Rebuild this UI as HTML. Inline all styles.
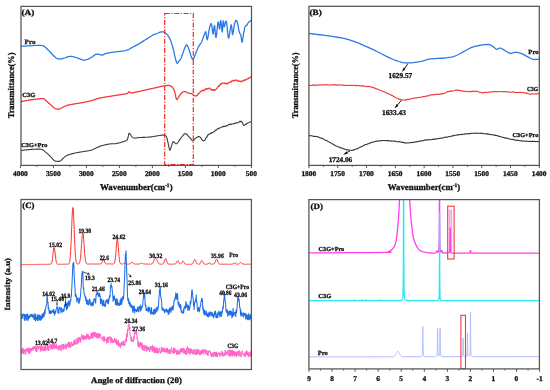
<!DOCTYPE html><html><head><meta charset="utf-8"><style>html,body{margin:0;padding:0;background:#fff}svg{display:block;will-change:transform}text{font-family:"Liberation Serif",serif;font-weight:bold;fill:#111;stroke:#111;stroke-width:0.3px;text-rendering:geometricPrecision}</style></head><body>
<svg width="550" height="390" viewBox="0 0 550 390">
<rect width="550" height="390" fill="#fff"/>
<defs>
<clipPath id="cA"><rect x="21" y="6.5" width="230.5" height="159"/></clipPath>
<clipPath id="cB"><rect x="309" y="6.5" width="230.3" height="159"/></clipPath>
<clipPath id="cC"><rect x="21" y="199.5" width="230.5" height="170"/></clipPath>
<clipPath id="cD"><rect x="309" y="199.5" width="230.5" height="169.5"/></clipPath>
</defs>
<g clip-path="url(#cA)" fill="none" stroke-linejoin="round">
<path d="M21.00,46.30 L22.58,46.21 L24.83,46.07 L27.42,45.93 L30.00,45.80 L32.71,45.65 L35.64,45.47 L38.44,45.36 L40.70,45.40 L42.21,45.58 L43.21,45.86 L44.03,46.31 L45.00,47.00 L46.20,48.01 L47.46,49.29 L48.73,50.67 L50.00,52.00 L51.29,53.32 L52.61,54.69 L53.88,55.97 L55.00,57.00 L55.89,57.75 L56.61,58.29 L57.33,58.66 L58.20,58.90 L59.23,59.00 L60.35,58.96 L61.59,58.78 L63.00,58.50 L64.66,58.00 L66.54,57.30 L68.44,56.65 L70.20,56.30 L71.71,56.33 L73.09,56.61 L74.48,57.03 L76.00,57.50 L77.79,58.11 L79.74,58.87 L81.65,59.57 L83.30,60.00 L84.58,60.09 L85.63,59.95 L86.59,59.66 L87.60,59.30 L88.69,58.85 L89.79,58.29 L90.90,57.65 L92.00,57.00 L93.08,56.23 L94.14,55.35 L95.23,54.57 L96.40,54.10 L97.71,54.11 L99.11,54.46 L100.51,54.85 L101.80,55.00 L102.90,54.78 L103.89,54.38 L104.88,53.90 L106.00,53.50 L107.24,53.20 L108.54,52.93 L109.97,52.67 L111.60,52.40 L113.54,52.12 L115.72,51.85 L117.94,51.57 L120.00,51.30 L121.85,51.07 L123.59,50.88 L125.27,50.62 L126.90,50.20 L128.46,49.56 L129.94,48.77 L131.43,47.89 L133.00,47.00 L134.73,46.08 L136.57,45.10 L138.37,44.12 L140.00,43.20 L141.33,42.40 L142.46,41.66 L143.61,40.90 L145.00,40.00 L146.81,38.84 L148.89,37.51 L150.95,36.22 L152.70,35.20 L154.00,34.56 L155.03,34.16 L155.97,33.85 L157.00,33.50 L158.18,33.00 L159.41,32.44 L160.63,31.99 L161.80,31.80 L162.90,31.91 L163.96,32.23 L164.99,32.76 L166.00,33.50 L166.99,34.44 L167.96,35.57 L168.90,36.94 L169.80,38.60 L170.67,40.66 L171.51,43.06 L172.30,45.58 L173.00,48.00 L173.58,50.34 L174.07,52.70 L174.53,54.96 L175.00,57.00 L175.50,58.94 L176.00,60.80 L176.50,62.31 L177.00,63.20 L177.50,63.26 L177.99,62.68 L178.49,61.80 L179.00,61.00 L179.50,60.42 L179.99,59.86 L180.52,59.12 L181.10,58.00 L181.78,56.29 L182.53,54.14 L183.29,51.92 L184.00,50.00 L184.65,48.33 L185.28,46.76 L185.87,45.51 L186.40,44.80 L186.86,44.79 L187.26,45.32 L187.63,46.15 L188.00,47.00 L188.38,47.85 L188.76,48.83 L189.13,49.89 L189.50,51.00 L189.86,52.21 L190.22,53.53 L190.59,54.83 L191.00,56.00 L191.45,57.19 L191.94,58.41 L192.45,59.29 L193.00,59.50 L193.58,58.79 L194.20,57.40 L194.84,55.68 L195.50,54.00 L196.18,52.31 L196.87,50.48 L197.59,48.68 L198.30,47.10 L199.05,45.82 L199.84,44.73 L200.58,43.75 L201.20,42.80 L201.64,41.94 L201.95,41.19 L202.24,40.40 L202.60,39.40 L203.10,38.02 L203.67,36.39 L204.23,34.81 L204.70,33.60 L205.04,32.69 L205.29,31.96 L205.52,31.65 L205.80,32.00 L206.13,33.73 L206.48,36.48 L206.87,38.92 L207.30,39.70 L207.81,37.96 L208.38,34.59 L208.95,30.85 L209.50,28.00 L210.00,26.08 L210.49,24.52 L210.95,23.65 L211.40,23.80 L211.82,25.80 L212.23,29.23 L212.61,32.52 L213.00,34.10 L213.38,32.77 L213.76,29.62 L214.13,26.54 L214.50,25.40 L214.86,27.66 L215.21,32.00 L215.58,36.12 L216.00,37.70 L216.50,35.17 L217.05,30.07 L217.60,24.81 L218.10,21.80 L218.52,22.35 L218.91,24.95 L219.26,27.78 L219.60,29.00 L219.92,27.46 L220.21,24.37 L220.49,21.41 L220.80,20.30 L221.15,22.33 L221.51,26.31 L221.87,30.21 L222.20,32.00 L222.48,30.40 L222.72,26.75 L222.96,22.92 L223.20,20.80 L223.44,21.38 L223.66,23.50 L223.91,25.79 L224.20,26.90 L224.57,26.13 L225.00,24.31 L225.43,22.39 L225.80,21.30 L226.08,21.12 L226.29,21.41 L226.51,22.32 L226.80,24.00 L227.18,27.28 L227.61,31.81 L228.06,35.98 L228.50,38.20 L228.94,37.56 L229.38,35.08 L229.81,32.01 L230.20,29.60 L230.54,27.81 L230.83,26.11 L231.11,24.97 L231.40,24.90 L231.69,26.76 L231.97,30.04 L232.26,33.17 L232.60,34.60 L232.99,33.51 L233.42,30.86 L233.87,27.76 L234.30,25.30 L234.71,23.59 L235.11,22.10 L235.50,20.99 L235.90,20.40 L236.30,20.40 L236.69,20.90 L237.09,21.82 L237.50,23.10 L237.92,24.98 L238.35,27.41 L238.78,29.86 L239.20,31.80 L239.61,32.92 L240.02,33.55 L240.42,34.13 L240.80,35.10 L241.14,36.97 L241.46,39.37 L241.78,41.41 L242.10,42.20 L242.44,41.21 L242.77,39.02 L243.13,36.37 L243.50,34.00 L243.91,31.91 L244.34,29.76 L244.78,27.83 L245.20,26.40 L245.61,25.71 L246.01,25.55 L246.40,25.54 L246.80,25.30 L247.17,24.70 L247.53,23.96 L247.92,23.19 L248.40,22.50 L249.05,21.89 L249.82,21.31 L250.58,20.80 L251.20,20.40 L251.66,20.13 L252.02,19.97 L252.30,19.87 L252.50,19.80" stroke="#2a7ae4" stroke-width="1.3"/>
<path d="M21.00,101.60 L21.60,101.49 L22.20,101.37 L22.80,101.26 L23.40,101.15 L24.00,101.03 L24.60,100.92 L25.20,100.81 L25.80,100.70 L26.40,100.59 L27.00,100.48 L27.60,100.38 L28.20,100.28 L28.80,100.18 L29.40,100.09 L30.00,100.00 L30.60,99.91 L31.20,99.83 L31.80,99.75 L32.40,99.66 L33.00,99.58 L33.60,99.50 L34.20,99.42 L34.80,99.35 L35.40,99.27 L36.00,99.19 L36.60,99.12 L37.20,99.05 L37.80,98.98 L38.40,98.91 L39.00,98.84 L39.60,98.78 L40.20,98.72 L40.80,98.67 L41.40,98.63 L42.00,98.59 L42.60,98.58 L43.20,98.61 L43.80,98.81 L44.40,99.30 L45.00,99.70 L45.60,100.21 L46.20,100.77 L46.80,101.32 L47.40,101.86 L48.00,102.40 L48.60,102.95 L49.20,103.49 L49.80,104.04 L50.40,104.58 L51.00,105.12 L51.60,105.65 L52.20,106.17 L52.80,106.69 L53.40,107.21 L54.00,107.69 L54.60,108.09 L55.20,108.39 L55.80,108.64 L56.40,108.84 L57.00,109.00 L57.60,109.12 L58.20,109.19 L58.80,109.19 L59.40,109.07 L60.00,108.79 L60.60,108.49 L61.20,108.20 L61.80,107.89 L62.40,107.55 L63.00,107.20 L63.60,106.87 L64.20,106.55 L64.80,106.26 L65.40,106.00 L66.00,105.77 L66.60,105.58 L67.20,105.40 L67.80,105.24 L68.40,105.10 L69.00,104.96 L69.60,104.84 L70.20,104.71 L70.80,104.60 L71.40,104.48 L72.00,104.37 L72.60,104.26 L73.20,104.15 L73.80,104.04 L74.40,103.93 L75.00,103.82 L75.60,103.72 L76.20,103.62 L76.80,103.52 L77.40,103.43 L78.00,103.33 L78.60,103.24 L79.20,103.14 L79.80,103.05 L80.40,102.95 L81.00,102.86 L81.60,102.76 L82.20,102.66 L82.80,102.55 L83.40,102.44 L84.00,102.32 L84.60,102.20 L85.20,102.08 L85.80,101.96 L86.40,101.83 L87.00,101.70 L87.60,101.57 L88.20,101.43 L88.80,101.30 L89.40,101.15 L90.00,101.01 L90.60,100.86 L91.20,100.71 L91.80,100.55 L92.40,100.38 L93.00,100.21 L93.60,100.00 L94.20,99.77 L94.80,99.54 L95.40,99.32 L96.00,99.11 L96.60,98.91 L97.20,98.73 L97.80,98.57 L98.40,98.41 L99.00,98.27 L99.60,98.14 L100.20,98.01 L100.80,97.88 L101.40,97.77 L102.00,97.66 L102.60,97.55 L103.20,97.44 L103.80,97.34 L104.40,97.24 L105.00,97.13 L105.60,97.03 L106.20,96.93 L106.80,96.83 L107.40,96.74 L108.00,96.64 L108.60,96.54 L109.20,96.45 L109.80,96.35 L110.40,96.26 L111.00,96.16 L111.60,96.07 L112.20,95.97 L112.80,95.88 L113.40,95.79 L114.00,95.69 L114.60,95.60 L115.20,95.51 L115.80,95.41 L116.40,95.32 L117.00,95.23 L117.60,95.13 L118.20,95.04 L118.80,94.95 L119.40,94.85 L120.00,94.76 L120.60,94.67 L121.20,94.57 L121.80,94.48 L122.40,94.38 L123.00,94.28 L123.60,94.18 L124.20,94.08 L124.80,93.98 L125.40,93.88 L126.00,93.77 L126.60,93.66 L127.20,93.53 L127.80,93.00 L128.40,92.33 L129.00,91.83 L129.60,91.99 L130.20,92.48 L130.80,92.76 L131.40,92.83 L132.00,92.83 L132.60,92.76 L133.20,92.65 L133.80,92.54 L134.40,92.42 L135.00,92.30 L135.60,92.18 L136.20,92.05 L136.80,91.92 L137.40,91.79 L138.00,91.66 L138.60,91.53 L139.20,91.40 L139.80,91.27 L140.40,91.13 L141.00,91.00 L141.60,90.87 L142.20,90.73 L142.80,90.60 L143.40,90.46 L144.00,90.33 L144.60,90.19 L145.20,90.06 L145.80,89.93 L146.40,89.79 L147.00,89.66 L147.60,89.53 L148.20,89.39 L148.80,89.26 L149.40,89.13 L150.00,89.00 L150.60,88.87 L151.20,88.73 L151.80,88.60 L152.40,88.47 L153.00,88.33 L153.60,88.19 L154.20,88.06 L154.80,87.92 L155.40,87.78 L156.00,87.64 L156.60,87.51 L157.20,87.37 L157.80,87.24 L158.40,87.10 L159.00,86.97 L159.60,86.84 L160.20,86.70 L160.80,86.58 L161.40,86.45 L162.00,86.32 L162.60,86.20 L163.20,86.09 L163.80,85.98 L164.40,85.87 L165.00,85.78 L165.60,85.69 L166.20,85.61 L166.80,85.54 L167.40,85.49 L168.00,85.46 L168.60,85.45 L169.20,85.51 L169.80,85.65 L170.40,85.89 L171.00,86.20 L171.60,86.58 L172.20,87.09 L172.80,87.76 L173.40,88.67 L174.00,89.82 L174.60,91.38 L175.20,93.91 L175.80,96.93 L176.40,99.07 L177.00,99.57 L177.60,98.81 L178.20,97.70 L178.80,96.84 L179.40,95.99 L180.00,95.09 L180.60,94.22 L181.20,93.44 L181.80,92.80 L182.40,92.34 L183.00,92.01 L183.60,91.78 L184.20,91.65 L184.80,91.60 L185.40,91.63 L186.00,91.83 L186.60,92.20 L187.20,92.60 L187.80,92.92 L188.40,93.11 L189.00,93.23 L189.60,93.33 L190.20,93.42 L190.80,93.54 L191.40,93.70 L192.00,93.95 L192.60,94.31 L193.20,94.74 L193.80,95.18 L194.40,95.58 L195.00,95.89 L195.60,96.03 L196.20,95.59 L196.80,95.84 L197.40,95.25 L198.00,94.41 L198.60,93.39 L199.20,93.27 L199.80,92.59 L200.40,91.70 L201.00,91.31 L201.60,90.77 L202.20,90.36 L202.80,90.66 L203.40,90.78 L204.00,90.03 L204.60,90.43 L205.20,89.25 L205.80,88.81 L206.40,88.34 L207.00,89.20 L207.60,88.76 L208.20,88.81 L208.80,88.49 L209.40,87.95 L210.00,88.57 L210.60,89.22 L211.20,89.24 L211.80,90.44 L212.40,89.91 L213.00,89.71 L213.60,90.43 L214.20,89.60 L214.80,90.35 L215.40,89.60 L216.00,89.35 L216.60,88.60 L217.20,88.10 L217.80,87.05 L218.40,86.15 L219.00,86.40 L219.60,85.05 L220.20,84.94 L220.80,83.64 L221.40,83.92 L222.00,83.47 L222.60,83.13 L223.20,83.14 L223.80,83.06 L224.40,83.40 L225.00,82.92 L225.60,83.48 L226.20,83.96 L226.80,83.23 L227.40,83.86 L228.00,83.52 L228.60,82.63 L229.20,82.24 L229.80,82.04 L230.40,81.71 L231.00,82.14 L231.60,81.22 L232.20,80.59 L232.80,80.43 L233.40,80.89 L234.00,80.99 L234.60,80.27 L235.20,80.13 L235.80,80.14 L236.40,80.48 L237.00,80.24 L237.60,81.00 L238.20,81.10 L238.80,81.29 L239.40,80.91 L240.00,80.99 L240.60,81.25 L241.20,81.91 L241.80,81.24 L242.40,81.40 L243.00,80.87 L243.60,80.33 L244.20,79.95 L244.80,80.45 L245.40,80.10 L246.00,79.33 L246.60,79.35 L247.20,79.01 L247.80,78.92 L248.40,78.66 L249.00,77.73 L249.60,78.05 L250.20,77.70 L250.80,77.01 L251.40,77.10 L252.00,76.54" stroke="#f23a3a" stroke-width="1.3"/>
<path d="M21.00,150.50 L21.60,150.43 L22.20,150.35 L22.80,150.28 L23.40,150.20 L24.00,150.12 L24.60,150.05 L25.20,149.98 L25.80,149.90 L26.40,149.84 L27.00,149.77 L27.60,149.71 L28.20,149.65 L28.80,149.59 L29.40,149.55 L30.00,149.50 L30.60,149.46 L31.20,149.42 L31.80,149.39 L32.40,149.35 L33.00,149.32 L33.60,149.29 L34.20,149.25 L34.80,149.23 L35.40,149.20 L36.00,149.18 L36.60,149.16 L37.20,149.14 L37.80,149.13 L38.40,149.13 L39.00,149.13 L39.60,149.14 L40.20,149.17 L40.80,149.21 L41.40,149.28 L42.00,149.39 L42.60,149.63 L43.20,150.14 L43.80,150.64 L44.40,151.11 L45.00,151.58 L45.60,152.07 L46.20,152.58 L46.80,153.10 L47.40,153.62 L48.00,154.16 L48.60,154.70 L49.20,155.25 L49.80,155.81 L50.40,156.40 L51.00,157.04 L51.60,157.72 L52.20,158.43 L52.80,159.12 L53.40,159.76 L54.00,160.30 L54.60,160.69 L55.20,160.97 L55.80,161.14 L56.40,161.23 L57.00,161.30 L57.60,161.37 L58.20,161.42 L58.80,161.42 L59.40,161.35 L60.00,161.18 L60.60,160.86 L61.20,160.34 L61.80,159.69 L62.40,159.05 L63.00,158.50 L63.60,157.96 L64.20,157.39 L64.80,156.85 L65.40,156.38 L66.00,155.97 L66.60,155.63 L67.20,155.35 L67.80,155.10 L68.40,154.88 L69.00,154.67 L69.60,154.48 L70.20,154.29 L70.80,154.12 L71.40,153.95 L72.00,153.80 L72.60,153.64 L73.20,153.49 L73.80,153.35 L74.40,153.21 L75.00,153.07 L75.60,152.94 L76.20,152.81 L76.80,152.68 L77.40,152.56 L78.00,152.45 L78.60,152.34 L79.20,152.24 L79.80,152.13 L80.40,152.04 L81.00,151.94 L81.60,151.85 L82.20,151.76 L82.80,151.67 L83.40,151.58 L84.00,151.49 L84.60,151.40 L85.20,151.31 L85.80,151.21 L86.40,151.12 L87.00,151.03 L87.60,150.92 L88.20,150.82 L88.80,150.70 L89.40,150.58 L90.00,150.45 L90.60,150.30 L91.20,150.13 L91.80,149.94 L92.40,149.72 L93.00,149.45 L93.60,149.16 L94.20,148.86 L94.80,148.59 L95.40,148.32 L96.00,148.05 L96.60,147.76 L97.20,147.46 L97.80,147.17 L98.40,146.88 L99.00,146.62 L99.60,146.38 L100.20,146.17 L100.80,145.97 L101.40,145.79 L102.00,145.63 L102.60,145.46 L103.20,145.31 L103.80,145.16 L104.40,145.02 L105.00,144.88 L105.60,144.75 L106.20,144.62 L106.80,144.50 L107.40,144.37 L108.00,144.26 L108.60,144.15 L109.20,144.05 L109.80,143.96 L110.40,143.89 L111.00,143.84 L111.60,143.81 L112.20,143.79 L112.80,143.79 L113.40,143.78 L114.00,143.77 L114.60,143.75 L115.20,143.71 L115.80,143.63 L116.40,143.52 L117.00,143.40 L117.60,143.27 L118.20,143.12 L118.80,142.96 L119.40,142.80 L120.00,142.62 L120.60,142.44 L121.20,142.25 L121.80,142.06 L122.40,141.87 L123.00,141.68 L123.60,141.50 L124.20,141.32 L124.80,141.14 L125.40,140.94 L126.00,140.68 L126.60,140.34 L127.20,139.74 L127.80,138.36 L128.40,135.64 L129.00,133.25 L129.60,133.40 L130.20,134.20 L130.80,135.05 L131.40,135.97 L132.00,136.77 L132.60,137.36 L133.20,137.75 L133.80,137.97 L134.40,138.06 L135.00,138.08 L135.60,138.05 L136.20,137.98 L136.80,137.89 L137.40,137.80 L138.00,137.71 L138.60,137.63 L139.20,137.57 L139.80,137.52 L140.40,137.48 L141.00,137.45 L141.60,137.43 L142.20,137.41 L142.80,137.40 L143.40,137.38 L144.00,137.36 L144.60,137.34 L145.20,137.32 L145.80,137.30 L146.40,137.27 L147.00,137.24 L147.60,137.20 L148.20,137.16 L148.80,137.11 L149.40,137.05 L150.00,137.00 L150.60,136.92 L151.20,136.85 L151.80,136.77 L152.40,136.67 L153.00,136.58 L153.60,136.48 L154.20,136.38 L154.80,136.28 L155.40,136.18 L156.00,136.08 L156.60,135.97 L157.20,135.87 L157.80,135.77 L158.40,135.67 L159.00,135.57 L159.60,135.48 L160.20,135.39 L160.80,135.31 L161.40,135.24 L162.00,135.17 L162.60,135.13 L163.20,135.11 L163.80,135.12 L164.40,135.16 L165.00,135.25 L165.60,135.52 L166.20,136.43 L166.80,137.77 L167.40,139.77 L168.00,142.65 L168.60,145.43 L169.20,148.36 L169.80,150.29 L170.40,149.68 L171.00,147.65 L171.60,145.70 L172.20,143.55 L172.80,142.01 L173.40,141.61 L174.00,142.00 L174.60,142.70 L175.20,143.35 L175.80,143.77 L176.40,143.81 L177.00,143.45 L177.60,142.81 L178.20,142.02 L178.80,141.15 L179.40,140.25 L180.00,139.35 L180.60,138.51 L181.20,137.75 L181.80,136.97 L182.40,136.16 L183.00,135.35 L183.60,134.63 L184.20,134.06 L184.80,133.72 L185.40,133.63 L186.00,133.81 L186.60,134.20 L187.20,134.74 L187.80,135.38 L188.40,136.08 L189.00,136.77 L189.60,137.41 L190.20,138.09 L190.80,138.87 L191.40,139.67 L192.00,140.40 L192.60,140.90 L193.20,140.96 L193.80,140.32 L194.40,139.39 L195.00,138.80 L195.60,138.36 L196.20,137.91 L196.80,137.47 L197.40,137.09 L198.00,136.80 L198.60,136.61 L199.20,136.59 L199.80,136.82 L200.40,137.39 L201.00,138.20 L201.60,139.10 L202.20,139.96 L202.80,140.61 L203.40,140.94 L204.00,140.85 L204.60,140.36 L205.20,139.98 L205.80,138.26 L206.40,137.10 L207.00,136.97 L207.60,135.39 L208.20,134.67 L208.80,134.65 L209.40,133.95 L210.00,134.07 L210.60,133.14 L211.20,133.48 L211.80,132.60 L212.40,132.53 L213.00,132.49 L213.60,131.90 L214.20,131.72 L214.80,131.11 L215.40,130.09 L216.00,130.42 L216.60,129.73 L217.20,129.06 L217.80,128.55 L218.40,128.76 L219.00,128.16 L219.60,128.15 L220.20,127.70 L220.80,127.62 L221.40,127.06 L222.00,126.98 L222.60,126.74 L223.20,126.28 L223.80,126.77 L224.40,126.06 L225.00,126.35 L225.60,126.37 L226.20,125.94 L226.80,125.31 L227.40,125.73 L228.00,125.38 L228.60,124.72 L229.20,124.37 L229.80,124.59 L230.40,123.95 L231.00,124.58 L231.60,124.05 L232.20,123.92 L232.80,123.69 L233.40,123.79 L234.00,123.90 L234.60,123.22 L235.20,123.16 L235.80,123.22 L236.40,122.82 L237.00,122.95 L237.60,122.74 L238.20,122.43 L238.80,122.36 L239.40,121.89 L240.00,121.15 L240.60,121.76 L241.20,121.29 L241.80,121.93 L242.40,122.78 L243.00,124.28 L243.60,125.39 L244.20,125.30 L244.80,124.99 L245.40,124.29 L246.00,124.53 L246.60,123.44 L247.20,123.44 L247.80,122.99 L248.40,122.71 L249.00,122.49 L249.60,122.10 L250.20,121.73 L250.80,121.96 L251.40,122.02 L252.00,121.74" stroke="#3c3c3c" stroke-width="1.1"/>
</g>
<rect x="164.7" y="13.5" width="28.6" height="151" fill="none" stroke="#f22" stroke-width="1.2" stroke-dasharray="5,1.6,1.2,1.6"/>
<rect x="21" y="6.4" width="230.5" height="159" fill="none" stroke="#555" stroke-width="1.25"/>
<path d="M20.40,165.5 v2.6 M36.90,165.5 v1.4 M53.40,165.5 v2.6 M69.90,165.5 v1.4 M86.40,165.5 v2.6 M102.90,165.5 v1.4 M119.40,165.5 v2.6 M135.90,165.5 v1.4 M152.40,165.5 v2.6 M168.90,165.5 v1.4 M185.40,165.5 v2.6 M201.90,165.5 v1.4 M218.40,165.5 v2.6 M234.90,165.5 v1.4 M251.40,165.5 v2.6" stroke="#555" stroke-width="1"/>
<text transform="translate(13.00,175.90) scale(1.002,1)" font-size="7.38">4000</text>
<text transform="translate(45.91,175.90) scale(1.002,1)" font-size="7.38">3500</text>
<text transform="translate(78.91,175.90) scale(1.002,1)" font-size="7.38">3000</text>
<text transform="translate(111.91,175.90) scale(1.002,1)" font-size="7.38">2500</text>
<text transform="translate(144.91,175.90) scale(1.002,1)" font-size="7.38">2000</text>
<text transform="translate(177.81,175.90) scale(1.002,1)" font-size="7.38">1500</text>
<text transform="translate(210.81,175.90) scale(1.002,1)" font-size="7.38">1000</text>
<text transform="translate(245.76,175.90) scale(1.002,1)" font-size="7.38">500</text>
<text transform="translate(21.54,14.70) scale(1.154,1)" font-size="8.00">(A)</text>
<text transform="translate(24.62,43.70) scale(1.076,1)" font-size="6.62">Pro</text>
<text transform="translate(22.27,97.15) scale(1.046,1)" font-size="6.31">C3G</text>
<text transform="translate(21.28,147.20) scale(1.056,1)" font-size="6.00">C3G+Pro</text>
<text x="136.3" y="189.7" font-size="8.8" text-anchor="middle">Wavenumber(cm<tspan font-size="5.5" dy="-3">-1</tspan><tspan dy="3">)</tspan></text>
<text transform="translate(13.90,118.31) rotate(-90) scale(0.942,1)" font-size="8.90">Transmittance(%)</text>
<g clip-path="url(#cB)" fill="none" stroke-linejoin="round">
<path d="M308.90,33.50 L310.80,33.72 L313.40,34.01 L316.49,34.36 L319.88,34.76 L323.38,35.21 L326.80,35.70 L330.21,36.19 L333.77,36.69 L337.45,37.24 L341.18,37.87 L344.92,38.65 L348.60,39.60 L352.30,40.78 L356.06,42.17 L359.83,43.70 L363.53,45.29 L367.11,46.88 L370.50,48.40 L373.74,49.91 L376.87,51.47 L379.89,53.02 L382.75,54.52 L385.43,55.90 L387.90,57.10 L390.12,58.12 L392.09,58.99 L393.89,59.75 L395.56,60.41 L397.18,60.98 L398.80,61.50 L400.36,61.95 L401.81,62.31 L403.20,62.59 L404.59,62.80 L406.04,62.93 L407.60,63.00 L409.35,62.97 L411.24,62.84 L413.19,62.64 L415.11,62.39 L416.91,62.14 L418.50,61.90 L419.87,61.67 L421.08,61.42 L422.18,61.16 L423.17,60.90 L424.11,60.64 L425.00,60.40 L425.66,60.17 L426.02,59.96 L426.32,59.74 L426.78,59.53 L427.63,59.32 L429.10,59.10 L431.42,58.88 L434.46,58.67 L437.89,58.46 L441.39,58.23 L444.63,57.98 L447.30,57.70 L449.29,57.44 L450.84,57.21 L452.14,56.97 L453.37,56.64 L454.73,56.17 L456.40,55.50 L458.46,54.53 L460.77,53.27 L463.20,51.88 L465.63,50.48 L467.94,49.21 L470.00,48.20 L471.78,47.46 L473.37,46.90 L474.83,46.46 L476.23,46.10 L477.64,45.80 L479.10,45.50 L480.67,45.20 L482.30,44.93 L483.94,44.71 L485.51,44.56 L486.95,44.48 L488.20,44.50 L489.22,44.64 L490.06,44.88 L490.76,45.21 L491.40,45.59 L492.03,45.99 L492.70,46.40 L493.41,46.87 L494.10,47.44 L494.79,48.04 L495.46,48.59 L496.13,49.04 L496.80,49.30 L497.40,49.28 L497.92,49.00 L498.44,48.62 L499.02,48.26 L499.75,48.08 L500.70,48.20 L501.96,48.75 L503.47,49.63 L505.14,50.69 L506.83,51.74 L508.42,52.64 L509.80,53.20 L510.93,53.36 L511.91,53.24 L512.79,52.96 L513.64,52.63 L514.53,52.37 L515.50,52.30 L516.53,52.38 L517.56,52.51 L518.62,52.72 L519.74,53.01 L520.96,53.40 L522.30,53.90 L523.84,54.62 L525.57,55.56 L527.39,56.60 L529.21,57.62 L530.95,58.49 L532.50,59.10 L533.93,59.40 L535.33,59.49 L536.64,59.43 L537.80,59.29 L538.78,59.16 L539.50,59.10" stroke="#2a7ae4" stroke-width="1.3"/>
<path d="M309.00,85.31 L309.70,85.49 L310.40,85.33 L311.10,85.46 L311.80,85.43 L312.50,85.00 L313.20,84.92 L313.90,85.46 L314.60,85.02 L315.30,84.96 L316.00,85.46 L316.70,85.06 L317.40,85.28 L318.10,84.99 L318.80,85.08 L319.50,84.71 L320.20,85.02 L320.90,85.16 L321.60,84.90 L322.30,85.03 L323.00,84.97 L323.70,84.53 L324.40,85.00 L325.10,84.88 L325.80,84.67 L326.50,84.47 L327.20,85.06 L327.90,84.79 L328.60,84.96 L329.30,85.08 L330.00,84.97 L330.70,85.12 L331.40,84.76 L332.10,85.05 L332.80,84.81 L333.50,85.16 L334.20,85.14 L334.90,84.60 L335.60,84.64 L336.30,84.71 L337.00,85.25 L337.70,84.89 L338.40,85.04 L339.10,84.83 L339.80,84.99 L340.50,84.92 L341.20,84.91 L341.90,85.09 L342.60,85.11 L343.30,85.35 L344.00,85.22 L344.70,85.41 L345.40,85.38 L346.10,85.49 L346.80,85.29 L347.50,84.96 L348.20,85.47 L348.90,85.57 L349.60,85.55 L350.30,85.34 L351.00,85.47 L351.70,85.14 L352.40,85.61 L353.10,85.46 L353.80,85.29 L354.50,85.16 L355.20,85.75 L355.90,85.88 L356.60,85.29 L357.30,85.82 L358.00,85.58 L358.70,85.44 L359.40,85.59 L360.10,85.96 L360.80,86.08 L361.50,85.55 L362.20,86.00 L362.90,85.66 L363.60,86.19 L364.30,85.98 L365.00,86.44 L365.70,86.58 L366.40,86.34 L367.10,86.78 L367.80,86.40 L368.50,86.34 L369.20,86.83 L369.90,86.56 L370.60,86.81 L371.30,87.11 L372.00,87.41 L372.70,87.28 L373.40,87.38 L374.10,88.17 L374.80,88.00 L375.50,88.70 L376.20,88.90 L376.90,88.80 L377.60,89.13 L378.30,89.45 L379.00,89.82 L379.70,90.08 L380.40,90.34 L381.10,90.66 L381.80,91.17 L382.50,91.16 L383.20,91.40 L383.90,91.91 L384.60,91.88 L385.30,92.24 L386.00,93.04 L386.70,93.04 L387.40,93.39 L388.10,93.34 L388.80,93.96 L389.50,94.41 L390.20,94.36 L390.90,95.11 L391.60,95.46 L392.30,95.39 L393.00,96.14 L393.70,96.38 L394.40,96.90 L395.10,97.05 L395.80,97.69 L396.50,98.09 L397.20,97.96 L397.90,98.32 L398.60,99.04 L399.30,99.50 L400.00,99.25 L400.70,99.61 L401.40,99.89 L402.10,99.84 L402.80,99.96 L403.50,99.97 L404.20,100.01 L404.90,100.12 L405.60,99.83 L406.30,99.76 L407.00,99.89 L407.70,99.21 L408.40,99.41 L409.10,99.36 L409.80,98.90 L410.50,98.68 L411.20,98.95 L411.90,98.42 L412.60,98.26 L413.30,98.31 L414.00,98.38 L414.70,97.84 L415.40,97.88 L416.10,97.77 L416.80,98.01 L417.50,97.62 L418.20,97.80 L418.90,97.20 L419.60,97.20 L420.30,97.31 L421.00,97.36 L421.70,96.94 L422.40,96.66 L423.10,96.47 L423.80,96.63 L424.50,96.27 L425.20,96.58 L425.90,96.46 L426.60,95.85 L427.30,95.75 L428.00,95.95 L428.70,95.65 L429.40,95.60 L430.10,95.12 L430.80,94.84 L431.50,94.84 L432.20,95.09 L432.90,94.64 L433.60,94.61 L434.30,94.58 L435.00,94.50 L435.70,94.42 L436.40,94.71 L437.10,94.10 L437.80,93.92 L438.50,94.50 L439.20,94.38 L439.90,94.37 L440.60,93.89 L441.30,94.15 L442.00,94.02 L442.70,93.41 L443.40,93.61 L444.10,93.49 L444.80,93.16 L445.50,92.81 L446.20,92.38 L446.90,92.14 L447.60,91.79 L448.30,91.44 L449.00,91.59 L449.70,91.21 L450.40,91.41 L451.10,90.72 L451.80,91.18 L452.50,90.89 L453.20,90.93 L453.90,90.79 L454.60,90.69 L455.30,90.38 L456.00,89.93 L456.70,90.39 L457.40,89.97 L458.10,90.09 L458.80,90.40 L459.50,90.39 L460.20,90.44 L460.90,90.95 L461.60,90.87 L462.30,90.83 L463.00,90.90 L463.70,91.45 L464.40,91.28 L465.10,91.56 L465.80,91.31 L466.50,91.23 L467.20,91.47 L467.90,91.67 L468.60,91.22 L469.30,91.64 L470.00,91.72 L470.70,91.62 L471.40,91.62 L472.10,91.03 L472.80,91.45 L473.50,91.60 L474.20,91.02 L474.90,91.18 L475.60,91.18 L476.30,91.39 L477.00,91.37 L477.70,91.52 L478.40,92.02 L479.10,91.96 L479.80,92.24 L480.50,92.39 L481.20,92.43 L481.90,92.39 L482.60,93.01 L483.30,92.89 L484.00,92.32 L484.70,92.57 L485.40,92.38 L486.10,92.33 L486.80,92.30 L487.50,92.45 L488.20,92.35 L488.90,92.14 L489.60,91.96 L490.30,91.99 L491.00,91.79 L491.70,92.03 L492.40,92.09 L493.10,91.79 L493.80,91.53 L494.50,91.54 L495.20,91.63 L495.90,91.75 L496.60,91.83 L497.30,91.52 L498.00,91.79 L498.70,91.64 L499.40,91.50 L500.10,91.45 L500.80,91.55 L501.50,91.71 L502.20,91.53 L502.90,91.76 L503.60,91.63 L504.30,91.52 L505.00,91.76 L505.70,91.90 L506.40,91.50 L507.10,91.78 L507.80,91.81 L508.50,92.16 L509.20,92.23 L509.90,91.87 L510.60,92.27 L511.30,92.23 L512.00,91.90 L512.70,92.08 L513.40,91.87 L514.10,92.39 L514.80,92.33 L515.50,92.52 L516.20,92.50 L516.90,92.45 L517.60,92.54 L518.30,92.46 L519.00,92.18 L519.70,92.57 L520.40,92.21 L521.10,92.36 L521.80,92.85 L522.50,92.40 L523.20,92.50 L523.90,92.58 L524.60,93.22 L525.30,92.82 L526.00,92.82 L526.70,93.51 L527.40,93.12 L528.10,93.74 L528.80,93.74 L529.50,93.95 L530.20,94.12 L530.90,93.92 L531.60,94.11 L532.30,93.60 L533.00,94.12 L533.70,93.93 L534.40,94.05 L535.10,93.60 L535.80,94.01 L536.50,94.10 L537.20,93.44 L537.90,93.58 L538.60,93.70 L539.30,93.84" stroke="#f23a3a" stroke-width="1.1"/>
<path d="M309.00,135.61 L309.70,135.63 L310.40,135.82 L311.10,135.79 L311.80,135.82 L312.50,136.03 L313.20,136.32 L313.90,136.35 L314.60,136.43 L315.30,136.32 L316.00,136.56 L316.70,136.59 L317.40,136.70 L318.10,136.84 L318.80,137.10 L319.50,137.61 L320.20,137.82 L320.90,138.08 L321.60,138.36 L322.30,138.42 L323.00,138.79 L323.70,139.24 L324.40,139.62 L325.10,140.01 L325.80,140.36 L326.50,140.39 L327.20,140.95 L327.90,141.34 L328.60,141.65 L329.30,141.91 L330.00,142.43 L330.70,142.68 L331.40,143.42 L332.10,143.80 L332.80,144.08 L333.50,144.38 L334.20,145.01 L334.90,145.26 L335.60,145.74 L336.30,146.09 L337.00,146.28 L337.70,146.57 L338.40,146.93 L339.10,147.16 L339.80,147.32 L340.50,147.65 L341.20,148.11 L341.90,148.06 L342.60,148.30 L343.30,148.77 L344.00,148.85 L344.70,149.17 L345.40,149.34 L346.10,149.49 L346.80,149.92 L347.50,149.76 L348.20,149.99 L348.90,150.03 L349.60,150.30 L350.30,150.24 L351.00,150.31 L351.70,150.45 L352.40,150.19 L353.10,150.14 L353.80,150.09 L354.50,149.56 L355.20,149.32 L355.90,149.13 L356.60,149.06 L357.30,148.69 L358.00,148.21 L358.70,147.90 L359.40,147.49 L360.10,147.24 L360.80,146.71 L361.50,146.62 L362.20,146.34 L362.90,146.02 L363.60,145.59 L364.30,145.35 L365.00,144.66 L365.70,144.48 L366.40,144.47 L367.10,144.14 L367.80,143.73 L368.50,143.70 L369.20,143.32 L369.90,143.17 L370.60,142.73 L371.30,142.47 L372.00,142.36 L372.70,142.03 L373.40,141.95 L374.10,142.00 L374.80,141.58 L375.50,141.29 L376.20,141.17 L376.90,141.09 L377.60,141.22 L378.30,140.95 L379.00,140.84 L379.70,140.69 L380.40,140.99 L381.10,140.71 L381.80,140.59 L382.50,140.50 L383.20,140.49 L383.90,140.52 L384.60,140.72 L385.30,140.51 L386.00,140.48 L386.70,140.67 L387.40,140.59 L388.10,140.91 L388.80,140.59 L389.50,140.79 L390.20,140.94 L390.90,140.85 L391.60,141.15 L392.30,141.01 L393.00,140.99 L393.70,141.14 L394.40,141.08 L395.10,141.32 L395.80,141.33 L396.50,141.68 L397.20,141.74 L397.90,141.69 L398.60,141.59 L399.30,141.77 L400.00,141.85 L400.70,141.95 L401.40,142.08 L402.10,142.46 L402.80,142.30 L403.50,142.38 L404.20,142.84 L404.90,142.78 L405.60,143.03 L406.30,142.84 L407.00,143.05 L407.70,142.96 L408.40,142.98 L409.10,142.91 L409.80,142.75 L410.50,142.51 L411.20,142.47 L411.90,142.64 L412.60,142.55 L413.30,142.45 L414.00,142.10 L414.70,142.11 L415.40,142.05 L416.10,141.87 L416.80,141.81 L417.50,141.58 L418.20,141.51 L418.90,141.40 L419.60,141.11 L420.30,141.24 L421.00,141.10 L421.70,140.58 L422.40,140.78 L423.10,140.62 L423.80,140.36 L424.50,140.00 L425.20,140.24 L425.90,139.84 L426.60,140.11 L427.30,139.94 L428.00,139.64 L428.70,139.64 L429.40,139.78 L430.10,139.70 L430.80,139.71 L431.50,139.72 L432.20,139.36 L432.90,139.19 L433.60,139.47 L434.30,139.00 L435.00,139.25 L435.70,138.83 L436.40,139.00 L437.10,138.88 L437.80,138.80 L438.50,138.56 L439.20,138.57 L439.90,138.18 L440.60,138.25 L441.30,137.99 L442.00,138.10 L442.70,137.93 L443.40,137.68 L444.10,137.58 L444.80,137.26 L445.50,137.14 L446.20,137.24 L446.90,137.07 L447.60,137.09 L448.30,136.85 L449.00,136.52 L449.70,136.47 L450.40,136.48 L451.10,136.22 L451.80,135.86 L452.50,136.03 L453.20,135.87 L453.90,135.42 L454.60,135.47 L455.30,135.27 L456.00,135.31 L456.70,135.00 L457.40,134.86 L458.10,134.87 L458.80,134.96 L459.50,134.52 L460.20,134.44 L460.90,134.56 L461.60,134.58 L462.30,134.34 L463.00,134.22 L463.70,134.31 L464.40,134.20 L465.10,133.83 L465.80,134.09 L466.50,133.74 L467.20,133.71 L467.90,133.85 L468.60,133.62 L469.30,133.71 L470.00,133.39 L470.70,133.63 L471.40,133.29 L472.10,133.23 L472.80,133.33 L473.50,133.23 L474.20,133.28 L474.90,133.40 L475.60,133.31 L476.30,133.01 L477.00,133.13 L477.70,133.23 L478.40,133.22 L479.10,133.33 L479.80,133.27 L480.50,133.14 L481.20,133.25 L481.90,133.54 L482.60,133.40 L483.30,133.62 L484.00,133.78 L484.70,133.70 L485.40,133.80 L486.10,133.86 L486.80,133.83 L487.50,134.16 L488.20,134.08 L488.90,134.36 L489.60,134.22 L490.30,134.56 L491.00,134.63 L491.70,134.68 L492.40,134.73 L493.10,134.73 L493.80,135.12 L494.50,135.09 L495.20,135.37 L495.90,135.32 L496.60,135.47 L497.30,135.68 L498.00,136.12 L498.70,136.07 L499.40,136.55 L500.10,136.54 L500.80,136.82 L501.50,136.92 L502.20,137.22 L502.90,137.20 L503.60,137.50 L504.30,137.90 L505.00,137.76 L505.70,138.10 L506.40,138.13 L507.10,138.26 L507.80,138.30 L508.50,138.44 L509.20,138.95 L509.90,139.04 L510.60,139.17 L511.30,139.31 L512.00,139.50 L512.70,139.32 L513.40,139.62 L514.10,139.71 L514.80,139.86 L515.50,140.13 L516.20,140.18 L516.90,140.37 L517.60,140.14 L518.30,140.46 L519.00,140.56 L519.70,140.69 L520.40,140.73 L521.10,140.89 L521.80,140.76 L522.50,141.09 L523.20,140.94 L523.90,141.08 L524.60,141.25 L525.30,141.22 L526.00,141.10 L526.70,141.11 L527.40,141.18 L528.10,141.33 L528.80,141.51 L529.50,141.50 L530.20,141.32 L530.90,141.35 L531.60,141.54 L532.30,141.34 L533.00,141.41 L533.70,141.27 L534.40,141.35 L535.10,141.51 L535.80,141.59 L536.50,141.57 L537.20,141.48 L537.90,141.73 L538.60,141.62 L539.30,141.46" stroke="#333" stroke-width="1.1"/>
</g>
<rect x="308.9" y="6.3" width="230.4" height="159.1" fill="none" stroke="#555" stroke-width="1.25"/>
<path d="M309.00,165.5 v2.6 M323.39,165.5 v1.4 M337.79,165.5 v2.6 M352.18,165.5 v1.4 M366.57,165.5 v2.6 M380.97,165.5 v1.4 M395.36,165.5 v2.6 M409.76,165.5 v1.4 M424.15,165.5 v2.6 M438.54,165.5 v1.4 M452.94,165.5 v2.6 M467.33,165.5 v1.4 M481.73,165.5 v2.6 M496.12,165.5 v1.4 M510.51,165.5 v2.6 M524.91,165.5 v1.4 M539.30,165.5 v2.6" stroke="#555" stroke-width="1"/>
<text transform="translate(301.42,175.90) scale(1.002,1)" font-size="7.38">1800</text>
<text transform="translate(330.20,175.90) scale(1.002,1)" font-size="7.38">1750</text>
<text transform="translate(358.99,175.90) scale(1.002,1)" font-size="7.38">1700</text>
<text transform="translate(387.78,175.90) scale(1.002,1)" font-size="7.38">1650</text>
<text transform="translate(416.56,175.90) scale(1.002,1)" font-size="7.38">1600</text>
<text transform="translate(445.35,175.90) scale(1.002,1)" font-size="7.38">1550</text>
<text transform="translate(474.14,175.90) scale(1.002,1)" font-size="7.38">1500</text>
<text transform="translate(502.93,175.90) scale(1.002,1)" font-size="7.38">1450</text>
<text transform="translate(531.72,175.90) scale(1.002,1)" font-size="7.38">1400</text>
<text transform="translate(309.54,15.10) scale(1.140,1)" font-size="8.00">(B)</text>
<text transform="translate(528.33,53.70) scale(1.028,1)" font-size="6.46">Pro</text>
<text transform="translate(526.92,90.60) scale(0.920,1)" font-size="6.15">C3G</text>
<text transform="translate(512.59,137.30) scale(1.043,1)" font-size="6.00">C3G+Pro</text>
<path d="M407.60,64.20 L404.62,68.34" stroke="#111" stroke-width="1.0"/><path d="M402.00,72.00 L403.57,67.59 L405.68,69.10Z" fill="#111"/>
<path d="M401.40,100.30 L397.49,104.95" stroke="#111" stroke-width="1.0"/><path d="M394.60,108.40 L396.50,104.12 L398.49,105.79Z" fill="#111"/>
<path d="M350.00,150.90 L347.13,152.50" stroke="#111" stroke-width="1.0"/><path d="M343.20,154.70 L346.49,151.37 L347.76,153.64Z" fill="#111"/>
<text transform="translate(388.55,78.10) scale(0.964,1)" font-size="7.54">1629.57</text>
<text transform="translate(381.95,114.50) scale(1.002,1)" font-size="7.38">1633.43</text>
<text transform="translate(328.65,161.70) scale(1.005,1)" font-size="7.23">1724.06</text>
<text x="424" y="189.7" font-size="8.8" text-anchor="middle">Wavenumber(cm<tspan font-size="5.5" dy="-3">-1</tspan><tspan dy="3">)</tspan></text>
<text transform="translate(297.80,118.31) rotate(-90) scale(0.975,1)" font-size="8.60">Transmittance(%)</text>
<g clip-path="url(#cC)" fill="none" stroke-linejoin="round">
<path d="M21.00,349.66 L21.25,352.54 L21.50,349.14 L21.75,348.86 L22.00,352.84 L22.25,351.45 L22.50,349.83 L22.75,353.51 L23.00,347.90 L23.25,348.79 L23.50,353.29 L23.75,353.39 L24.00,354.21 L24.25,349.49 L24.50,351.04 L24.75,351.55 L25.00,350.18 L25.25,349.83 L25.50,353.25 L25.75,354.37 L26.00,351.42 L26.25,348.55 L26.50,350.63 L26.75,348.98 L27.00,349.31 L27.25,351.68 L27.50,348.44 L27.75,349.13 L28.00,348.83 L28.25,347.98 L28.50,353.95 L28.75,352.33 L29.00,347.71 L29.25,352.87 L29.50,351.70 L29.75,350.14 L30.00,353.33 L30.25,348.64 L30.50,349.77 L30.75,348.11 L31.00,351.25 L31.25,348.53 L31.50,350.99 L31.75,349.44 L32.00,349.27 L32.25,348.01 L32.50,347.60 L32.75,347.25 L33.00,350.50 L33.25,346.93 L33.50,348.93 L33.75,346.56 L34.00,347.31 L34.25,348.25 L34.50,346.88 L34.75,348.79 L35.00,346.27 L35.25,349.55 L35.50,349.63 L35.75,350.61 L36.00,346.21 L36.25,352.13 L36.50,347.64 L36.75,351.61 L37.00,349.78 L37.25,347.39 L37.50,347.07 L37.75,345.90 L38.00,346.19 L38.25,348.10 L38.50,346.83 L38.75,349.27 L39.00,347.44 L39.25,346.38 L39.50,346.19 L39.75,346.89 L40.00,347.77 L40.25,347.83 L40.50,351.32 L40.75,345.64 L41.00,346.21 L41.25,347.52 L41.50,349.02 L41.75,345.33 L42.00,351.19 L42.25,348.53 L42.50,347.61 L42.75,346.70 L43.00,349.76 L43.25,348.75 L43.50,348.18 L43.75,349.38 L44.00,351.24 L44.25,346.04 L44.50,350.60 L44.75,347.07 L45.00,347.03 L45.25,343.85 L45.50,345.63 L45.75,350.74 L46.00,350.30 L46.25,348.97 L46.50,349.55 L46.75,349.81 L47.00,346.66 L47.25,347.70 L47.50,349.77 L47.75,343.87 L48.00,346.55 L48.25,345.91 L48.50,349.96 L48.75,350.84 L49.00,347.31 L49.25,347.08 L49.50,347.52 L49.75,346.36 L50.00,345.03 L50.25,343.89 L50.50,344.80 L50.75,347.52 L51.00,349.47 L51.25,346.93 L51.50,344.78 L51.75,347.67 L52.00,348.00 L52.25,344.12 L52.50,343.12 L52.75,349.31 L53.00,346.25 L53.25,344.53 L53.50,342.87 L53.75,347.92 L54.00,342.82 L54.25,345.62 L54.50,347.77 L54.75,348.98 L55.00,348.36 L55.25,347.50 L55.50,347.47 L55.75,344.78 L56.00,348.07 L56.25,343.62 L56.50,347.50 L56.75,348.73 L57.00,346.18 L57.25,347.10 L57.50,346.63 L57.75,346.95 L58.00,346.35 L58.25,350.35 L58.50,345.84 L58.75,347.15 L59.00,349.74 L59.25,347.53 L59.50,348.37 L59.75,345.11 L60.00,345.59 L60.25,346.63 L60.50,346.00 L60.75,346.56 L61.00,351.15 L61.25,345.25 L61.50,344.88 L61.75,345.80 L62.00,344.39 L62.25,344.54 L62.50,347.97 L62.75,348.52 L63.00,348.70 L63.25,349.65 L63.50,344.12 L63.75,347.18 L64.00,348.87 L64.25,348.26 L64.50,346.24 L64.75,345.20 L65.00,346.97 L65.25,345.02 L65.50,343.70 L65.75,344.05 L66.00,349.44 L66.25,348.29 L66.50,344.78 L66.75,345.62 L67.00,347.32 L67.25,345.30 L67.50,343.94 L67.75,342.96 L68.00,342.77 L68.25,347.51 L68.50,345.03 L68.75,341.80 L69.00,343.46 L69.25,347.13 L69.50,346.71 L69.75,342.23 L70.00,345.23 L70.25,347.71 L70.50,345.27 L70.75,344.43 L71.00,346.54 L71.25,341.86 L71.50,343.08 L71.75,342.61 L72.00,343.28 L72.25,344.48 L72.50,345.65 L72.75,343.86 L73.00,345.01 L73.25,346.03 L73.50,343.63 L73.75,341.38 L74.00,343.00 L74.25,339.78 L74.50,344.39 L74.75,345.00 L75.00,344.34 L75.25,342.01 L75.50,344.28 L75.75,342.51 L76.00,338.78 L76.25,341.40 L76.50,342.36 L76.75,343.98 L77.00,344.39 L77.25,344.30 L77.50,340.59 L77.75,340.86 L78.00,337.62 L78.25,341.41 L78.50,337.68 L78.75,343.12 L79.00,338.12 L79.25,337.85 L79.50,339.74 L79.75,337.23 L80.00,339.87 L80.25,338.00 L80.50,342.42 L80.75,339.14 L81.00,337.38 L81.25,336.38 L81.50,335.95 L81.75,336.64 L82.00,334.46 L82.25,340.14 L82.50,339.77 L82.75,336.06 L83.00,339.33 L83.25,335.88 L83.50,338.41 L83.75,339.61 L84.00,335.23 L84.25,338.11 L84.50,338.76 L84.75,336.58 L85.00,339.51 L85.25,337.34 L85.50,338.82 L85.75,335.97 L86.00,337.26 L86.25,335.89 L86.50,339.42 L86.75,333.86 L87.00,337.72 L87.25,335.33 L87.50,338.32 L87.75,334.47 L88.00,334.67 L88.25,334.11 L88.50,337.49 L88.75,339.31 L89.00,336.99 L89.25,336.22 L89.50,336.14 L89.75,339.40 L90.00,337.82 L90.25,338.78 L90.50,338.50 L90.75,336.65 L91.00,333.59 L91.25,332.97 L91.50,337.08 L91.75,337.88 L92.00,333.64 L92.25,336.18 L92.50,332.52 L92.75,338.78 L93.00,336.75 L93.25,332.54 L93.50,333.44 L93.75,336.17 L94.00,332.00 L94.25,332.04 L94.50,334.10 L94.75,336.89 L95.00,334.74 L95.25,332.71 L95.50,332.13 L95.75,336.89 L96.00,336.37 L96.25,337.70 L96.50,333.23 L96.75,338.15 L97.00,334.32 L97.25,337.62 L97.50,334.85 L97.75,333.43 L98.00,337.38 L98.25,334.01 L98.50,338.45 L98.75,334.66 L99.00,333.26 L99.25,337.41 L99.50,333.99 L99.75,334.05 L100.00,335.77 L100.25,334.28 L100.50,336.53 L100.75,337.46 L101.00,338.73 L101.25,337.41 L101.50,337.09 L101.75,337.33 L102.00,336.68 L102.25,337.79 L102.50,340.69 L102.75,340.76 L103.00,339.52 L103.25,339.36 L103.50,339.07 L103.75,336.42 L104.00,341.97 L104.25,341.48 L104.50,336.77 L104.75,337.03 L105.00,338.97 L105.25,339.91 L105.50,340.31 L105.75,339.58 L106.00,339.09 L106.25,338.57 L106.50,343.24 L106.75,338.66 L107.00,342.59 L107.25,337.96 L107.50,337.31 L107.75,338.29 L108.00,343.01 L108.25,338.68 L108.50,336.86 L108.75,340.54 L109.00,339.01 L109.25,336.73 L109.50,337.78 L109.75,337.03 L110.00,336.65 L110.25,337.69 L110.50,341.67 L110.75,343.07 L111.00,340.19 L111.25,337.06 L111.50,340.70 L111.75,341.91 L112.00,338.60 L112.25,340.54 L112.50,342.87 L112.75,340.88 L113.00,342.70 L113.25,339.95 L113.50,342.28 L113.75,341.22 L114.00,340.81 L114.25,339.48 L114.50,338.48 L114.75,341.31 L115.00,339.10 L115.25,343.28 L115.50,343.10 L115.75,340.97 L116.00,340.85 L116.25,338.70 L116.50,341.94 L116.75,345.18 L117.00,341.06 L117.25,344.35 L117.50,342.90 L117.75,340.99 L118.00,340.98 L118.25,339.92 L118.50,346.36 L118.75,346.38 L119.00,343.94 L119.25,342.76 L119.50,344.92 L119.75,345.89 L120.00,344.05 L120.25,347.80 L120.50,347.08 L120.75,345.43 L121.00,342.69 L121.25,344.33 L121.50,342.29 L121.75,343.83 L122.00,346.05 L122.25,343.09 L122.50,343.34 L122.75,341.51 L123.00,342.38 L123.25,344.95 L123.50,343.69 L123.75,340.82 L124.00,344.73 L124.25,345.94 L124.50,343.88 L124.75,345.60 L125.00,344.04 L125.25,340.76 L125.50,339.30 L125.75,339.99 L126.00,339.75 L126.25,337.34 L126.50,341.91 L126.75,334.87 L127.00,333.24 L127.25,337.13 L127.50,328.99 L127.75,330.17 L128.00,330.68 L128.25,325.17 L128.50,325.69 L128.75,324.93 L129.00,323.75 L129.25,330.00 L129.50,329.81 L129.75,326.84 L130.00,335.33 L130.25,335.64 L130.50,335.59 L130.75,335.98 L131.00,340.00 L131.25,341.42 L131.50,337.02 L131.75,340.29 L132.00,339.02 L132.25,342.04 L132.50,341.32 L132.75,341.90 L133.00,340.88 L133.25,341.59 L133.50,339.61 L133.75,336.60 L134.00,339.89 L134.25,338.34 L134.50,332.80 L134.75,333.11 L135.00,334.35 L135.25,329.83 L135.50,332.76 L135.75,330.97 L136.00,332.10 L136.25,329.86 L136.50,334.40 L136.75,332.57 L137.00,337.83 L137.25,339.23 L137.50,337.85 L137.75,340.16 L138.00,346.26 L138.25,342.20 L138.50,341.41 L138.75,342.19 L139.00,347.52 L139.25,347.64 L139.50,343.05 L139.75,346.78 L140.00,345.71 L140.25,345.88 L140.50,345.70 L140.75,341.82 L141.00,344.66 L141.25,343.88 L141.50,343.41 L141.75,346.94 L142.00,349.37 L142.25,343.48 L142.50,344.58 L142.75,350.11 L143.00,350.53 L143.25,346.48 L143.50,345.38 L143.75,346.80 L144.00,346.08 L144.25,350.86 L144.50,347.56 L144.75,348.92 L145.00,345.05 L145.25,346.10 L145.50,347.74 L145.75,345.53 L146.00,348.00 L146.25,351.41 L146.50,347.05 L146.75,347.83 L147.00,351.14 L147.25,346.41 L147.50,348.88 L147.75,348.42 L148.00,348.34 L148.25,349.93 L148.50,347.09 L148.75,347.17 L149.00,349.52 L149.25,349.35 L149.50,352.00 L149.75,352.06 L150.00,347.95 L150.25,346.40 L150.50,349.04 L150.75,349.75 L151.00,347.11 L151.25,346.31 L151.50,347.66 L151.75,346.82 L152.00,350.74 L152.25,351.56 L152.50,345.38 L152.75,349.29 L153.00,349.28 L153.25,347.59 L153.50,347.85 L153.75,351.73 L154.00,346.26 L154.25,352.88 L154.50,348.94 L154.75,347.56 L155.00,347.48 L155.25,348.70 L155.50,352.97 L155.75,353.18 L156.00,348.13 L156.25,352.19 L156.50,347.64 L156.75,348.73 L157.00,352.81 L157.25,347.96 L157.50,348.62 L157.75,353.41 L158.00,352.06 L158.25,350.14 L158.50,352.37 L158.75,352.98 L159.00,350.16 L159.25,347.90 L159.50,349.19 L159.75,350.52 L160.00,351.73 L160.25,351.55 L160.50,353.35 L160.75,352.92 L161.00,351.33 L161.25,347.29 L161.50,349.06 L161.75,352.26 L162.00,351.85 L162.25,348.64 L162.50,351.12 L162.75,349.69 L163.00,347.44 L163.25,349.93 L163.50,351.71 L163.75,349.64 L164.00,351.95 L164.25,349.76 L164.50,351.34 L164.75,348.20 L165.00,349.49 L165.25,352.51 L165.50,352.25 L165.75,350.83 L166.00,348.99 L166.25,351.22 L166.50,348.35 L166.75,352.34 L167.00,349.77 L167.25,351.97 L167.50,347.95 L167.75,351.76 L168.00,353.66 L168.25,351.21 L168.50,349.86 L168.75,352.19 L169.00,350.18 L169.25,353.66 L169.50,349.55 L169.75,350.35 L170.00,349.27 L170.25,353.42 L170.50,353.95 L170.75,351.96 L171.00,349.50 L171.25,348.84 L171.50,348.43 L171.75,347.54 L172.00,352.14 L172.25,350.85 L172.50,352.16 L172.75,352.52 L173.00,351.47 L173.25,353.70 L173.50,347.91 L173.75,352.00 L174.00,352.79 L174.25,352.53 L174.50,353.19 L174.75,347.94 L175.00,351.13 L175.25,352.09 L175.50,350.17 L175.75,351.45 L176.00,351.59 L176.25,353.08 L176.50,354.40 L176.75,351.20 L177.00,349.73 L177.25,354.49 L177.50,350.66 L177.75,352.64 L178.00,352.45 L178.25,354.36 L178.50,352.21 L178.75,351.61 L179.00,350.31 L179.25,350.98 L179.50,354.37 L179.75,353.42 L180.00,353.54 L180.25,348.82 L180.50,349.80 L180.75,351.95 L181.00,348.45 L181.25,351.24 L181.50,352.45 L181.75,348.95 L182.00,352.50 L182.25,348.87 L182.50,349.61 L182.75,349.88 L183.00,347.94 L183.25,351.58 L183.50,348.42 L183.75,351.46 L184.00,353.90 L184.25,349.41 L184.50,348.77 L184.75,353.40 L185.00,351.57 L185.25,350.55 L185.50,350.68 L185.75,354.13 L186.00,353.54 L186.25,354.57 L186.50,348.16 L186.75,350.47 L187.00,354.48 L187.25,348.94 L187.50,346.66 L187.75,349.22 L188.00,348.07 L188.25,350.74 L188.50,353.12 L188.75,349.38 L189.00,348.44 L189.25,348.42 L189.50,351.29 L189.75,354.46 L190.00,352.55 L190.25,348.59 L190.50,350.44 L190.75,353.25 L191.00,350.82 L191.25,348.83 L191.50,353.09 L191.75,351.19 L192.00,352.53 L192.25,352.71 L192.50,353.93 L192.75,351.22 L193.00,349.37 L193.25,351.72 L193.50,354.59 L193.75,353.84 L194.00,352.22 L194.25,350.94 L194.50,349.60 L194.75,352.20 L195.00,354.16 L195.25,351.95 L195.50,354.45 L195.75,354.79 L196.00,349.13 L196.25,351.73 L196.50,354.36 L196.75,355.02 L197.00,349.41 L197.25,354.14 L197.50,353.62 L197.75,351.10 L198.00,353.23 L198.25,353.77 L198.50,349.95 L198.75,349.20 L199.00,353.22 L199.25,352.51 L199.50,353.22 L199.75,355.14 L200.00,350.66 L200.25,350.95 L200.50,354.33 L200.75,355.05 L201.00,351.07 L201.25,354.02 L201.50,349.75 L201.75,353.75 L202.00,349.88 L202.25,353.10 L202.50,350.40 L202.75,349.78 L203.00,350.76 L203.25,352.51 L203.50,351.20 L203.75,354.27 L204.00,349.21 L204.25,350.39 L204.50,351.79 L204.75,351.81 L205.00,350.29 L205.25,349.73 L205.50,352.69 L205.75,354.09 L206.00,352.09 L206.25,349.94 L206.50,351.26 L206.75,351.80 L207.00,355.19 L207.25,351.89 L207.50,350.94 L207.75,352.38 L208.00,355.87 L208.25,351.43 L208.50,350.83 L208.75,352.61 L209.00,352.05 L209.25,351.06 L209.50,351.05 L209.75,350.59 L210.00,352.33 L210.25,352.59 L210.50,351.83 L210.75,355.48 L211.00,355.78 L211.25,353.66 L211.50,356.68 L211.75,353.23 L212.00,354.17 L212.25,352.76 L212.50,355.63 L212.75,356.80 L213.00,356.94 L213.25,356.63 L213.50,356.80 L213.75,352.06 L214.00,351.84 L214.25,353.09 L214.50,352.70 L214.75,355.81 L215.00,354.31 L215.25,351.88 L215.50,353.56 L215.75,356.97 L216.00,352.54 L216.25,355.45 L216.50,351.78 L216.75,356.52 L217.00,355.54 L217.25,353.00 L217.50,356.99 L217.75,354.77 L218.00,354.14 L218.25,353.51 L218.50,353.98 L218.75,352.33 L219.00,352.44 L219.25,352.37 L219.50,354.58 L219.75,356.49 L220.00,354.28 L220.25,354.88 L220.50,353.13 L220.75,354.16 L221.00,355.79 L221.25,355.03 L221.50,352.64 L221.75,351.10 L222.00,354.05 L222.25,354.42 L222.50,351.82 L222.75,356.30 L223.00,355.74 L223.25,356.18 L223.50,354.79 L223.75,355.77 L224.00,352.71 L224.25,353.51 L224.50,353.39 L224.75,355.89 L225.00,353.01 L225.25,349.97 L225.50,352.25 L225.75,355.16 L226.00,353.57 L226.25,351.84 L226.50,353.64 L226.75,351.77 L227.00,352.75 L227.25,354.07 L227.50,354.31 L227.75,352.62 L228.00,349.81 L228.25,353.90 L228.50,355.69 L228.75,354.25 L229.00,354.51 L229.25,356.18 L229.50,349.83 L229.75,351.62 L230.00,350.67 L230.25,349.90 L230.50,356.40 L230.75,354.45 L231.00,352.14 L231.25,350.84 L231.50,355.49 L231.75,350.02 L232.00,350.87 L232.25,349.91 L232.50,356.26 L232.75,351.38 L233.00,350.69 L233.25,354.96 L233.50,351.45 L233.75,352.57 L234.00,355.52 L234.25,355.54 L234.50,351.42 L234.75,356.41 L235.00,356.03 L235.25,351.73 L235.50,354.52 L235.75,352.28 L236.00,354.20 L236.25,356.71 L236.50,356.08 L236.75,352.10 L237.00,352.75 L237.25,351.43 L237.50,353.55 L237.75,355.60 L238.00,355.27 L238.25,350.78 L238.50,352.88 L238.75,354.06 L239.00,356.37 L239.25,353.51 L239.50,351.92 L239.75,350.64 L240.00,354.34 L240.25,352.38 L240.50,353.49 L240.75,353.36 L241.00,357.15 L241.25,355.17 L241.50,355.19 L241.75,352.96 L242.00,352.59 L242.25,350.72 L242.50,350.88 L242.75,353.55 L243.00,353.08 L243.25,355.51 L243.50,354.29 L243.75,354.35 L244.00,354.04 L244.25,354.34 L244.50,353.83 L244.75,356.52 L245.00,355.83 L245.25,352.22 L245.50,356.52 L245.75,353.68 L246.00,352.01 L246.25,350.86 L246.50,354.73 L246.75,350.81 L247.00,351.46 L247.25,352.58 L247.50,352.00 L247.75,355.33 L248.00,351.91 L248.25,355.28 L248.50,357.21 L248.75,354.44 L249.00,353.21 L249.25,353.34 L249.50,353.33 L249.75,354.60 L250.00,356.41 L250.25,351.94 L250.50,356.43 L250.75,352.76 L251.00,350.86 L251.25,355.98 L251.50,355.52 L251.75,350.88 L252.00,352.37" stroke="#ff62c6" stroke-width="1"/>
<path d="M21.00,316.82 L21.30,318.22 L21.60,313.52 L21.90,315.43 L22.20,318.46 L22.50,317.53 L22.80,314.58 L23.10,314.72 L23.40,314.00 L23.70,314.13 L24.00,316.04 L24.30,319.52 L24.60,320.25 L24.90,314.34 L25.20,320.52 L25.50,316.77 L25.80,315.99 L26.10,314.94 L26.40,314.15 L26.70,319.67 L27.00,316.82 L27.30,317.26 L27.60,314.06 L27.90,320.82 L28.20,318.64 L28.50,316.49 L28.80,318.73 L29.10,315.58 L29.40,317.57 L29.70,315.03 L30.00,317.00 L30.30,315.50 L30.60,316.69 L30.90,314.64 L31.20,315.18 L31.50,314.16 L31.80,316.37 L32.10,314.26 L32.40,315.39 L32.70,317.31 L33.00,317.33 L33.30,315.07 L33.60,316.48 L33.90,319.24 L34.20,313.89 L34.50,319.38 L34.80,315.44 L35.10,318.27 L35.40,320.99 L35.70,313.96 L36.00,319.44 L36.30,318.36 L36.60,317.54 L36.90,318.24 L37.20,320.52 L37.50,314.85 L37.80,319.95 L38.10,320.43 L38.40,318.61 L38.70,315.11 L39.00,315.37 L39.30,318.48 L39.60,319.82 L39.90,315.12 L40.20,320.36 L40.50,317.71 L40.80,320.04 L41.10,315.98 L41.40,319.31 L41.70,316.79 L42.00,315.02 L42.30,314.00 L42.60,318.25 L42.90,317.85 L43.20,314.89 L43.50,313.41 L43.80,312.88 L44.10,316.71 L44.40,313.52 L44.70,310.13 L45.00,313.84 L45.30,309.98 L45.60,309.60 L45.90,306.68 L46.20,305.38 L46.50,305.32 L46.80,303.39 L47.10,294.99 L47.40,298.20 L47.70,302.00 L48.00,301.99 L48.30,308.81 L48.60,307.06 L48.90,309.27 L49.20,313.32 L49.50,312.02 L49.80,310.54 L50.10,313.44 L50.40,310.86 L50.70,313.72 L51.00,311.80 L51.30,310.94 L51.60,313.06 L51.90,312.43 L52.20,311.12 L52.50,311.05 L52.80,311.45 L53.10,309.92 L53.40,312.93 L53.70,309.38 L54.00,311.12 L54.30,313.36 L54.60,315.28 L54.90,311.22 L55.20,313.39 L55.50,312.93 L55.80,311.10 L56.10,309.30 L56.40,309.13 L56.70,308.27 L57.00,306.12 L57.30,306.96 L57.60,307.12 L57.90,312.91 L58.20,309.69 L58.50,309.50 L58.80,313.55 L59.10,308.80 L59.40,307.38 L59.70,307.23 L60.00,308.24 L60.30,309.12 L60.60,308.22 L60.90,313.00 L61.20,307.42 L61.50,310.41 L61.80,310.21 L62.10,312.02 L62.40,310.66 L62.70,310.46 L63.00,308.68 L63.30,310.58 L63.60,311.71 L63.90,310.55 L64.20,310.23 L64.50,305.11 L64.80,305.31 L65.10,306.62 L65.40,301.51 L65.70,302.52 L66.00,304.47 L66.30,307.94 L66.60,309.94 L66.90,308.14 L67.20,302.65 L67.50,308.75 L67.80,303.16 L68.10,304.28 L68.40,303.03 L68.70,300.88 L69.00,306.59 L69.30,304.70 L69.60,301.23 L69.90,304.66 L70.20,301.43 L70.50,299.84 L70.80,300.97 L71.10,295.44 L71.40,296.18 L71.70,289.18 L72.00,284.67 L72.30,276.45 L72.60,270.38 L72.90,263.53 L73.20,266.86 L73.50,262.19 L73.80,264.33 L74.10,273.41 L74.40,278.92 L74.70,284.96 L75.00,287.88 L75.30,296.37 L75.60,295.18 L75.90,294.27 L76.20,295.42 L76.50,297.18 L76.80,301.82 L77.10,297.98 L77.40,299.00 L77.70,299.32 L78.00,297.80 L78.30,303.14 L78.60,302.26 L78.90,300.52 L79.20,303.23 L79.50,298.25 L79.80,300.81 L80.10,298.59 L80.40,296.61 L80.70,293.20 L81.00,288.79 L81.30,286.38 L81.60,279.23 L81.90,274.42 L82.20,272.74 L82.50,271.21 L82.80,271.88 L83.10,282.18 L83.40,288.76 L83.70,287.60 L84.00,293.11 L84.30,294.35 L84.60,293.98 L84.90,297.03 L85.20,296.26 L85.50,298.54 L85.80,300.50 L86.10,297.55 L86.40,303.01 L86.70,303.83 L87.00,300.05 L87.30,304.22 L87.60,301.89 L87.90,300.01 L88.20,304.86 L88.50,302.94 L88.80,304.68 L89.10,303.42 L89.40,299.05 L89.70,301.57 L90.00,299.62 L90.30,302.87 L90.60,305.23 L90.90,303.15 L91.20,305.31 L91.50,303.31 L91.80,303.00 L92.10,306.30 L92.40,302.06 L92.70,304.43 L93.00,304.56 L93.30,305.11 L93.60,301.33 L93.90,299.14 L94.20,298.67 L94.50,299.16 L94.80,298.86 L95.10,301.41 L95.40,302.99 L95.70,303.06 L96.00,297.07 L96.30,293.60 L96.60,294.09 L96.90,293.82 L97.20,290.78 L97.50,294.00 L97.80,293.03 L98.10,296.19 L98.40,296.33 L98.70,293.36 L99.00,293.37 L99.30,296.52 L99.60,293.16 L99.90,295.69 L100.20,296.00 L100.50,303.70 L100.80,302.84 L101.10,299.06 L101.40,298.95 L101.70,301.81 L102.00,303.81 L102.30,304.71 L102.60,305.81 L102.90,299.74 L103.20,305.81 L103.50,302.99 L103.80,300.88 L104.10,303.04 L104.40,306.30 L104.70,304.40 L105.00,305.09 L105.30,306.51 L105.60,304.19 L105.90,300.39 L106.20,302.25 L106.50,300.30 L106.80,299.91 L107.10,300.78 L107.40,303.09 L107.70,301.03 L108.00,299.07 L108.30,303.90 L108.60,301.65 L108.90,300.40 L109.20,298.10 L109.50,295.74 L109.80,297.69 L110.10,295.79 L110.40,286.26 L110.70,286.32 L111.00,283.44 L111.30,286.06 L111.60,287.40 L111.90,286.21 L112.20,289.82 L112.50,292.72 L112.80,295.64 L113.10,301.47 L113.40,296.55 L113.70,297.38 L114.00,299.94 L114.30,295.68 L114.60,297.40 L114.90,298.58 L115.20,299.28 L115.50,304.61 L115.80,302.02 L116.10,299.58 L116.40,304.15 L116.70,298.72 L117.00,305.53 L117.30,299.24 L117.60,305.09 L117.90,303.87 L118.20,303.40 L118.50,302.91 L118.80,304.87 L119.10,305.55 L119.40,305.20 L119.70,305.46 L120.00,300.16 L120.30,304.56 L120.60,303.74 L120.90,298.19 L121.20,298.03 L121.50,304.41 L121.80,303.55 L122.10,299.75 L122.40,301.16 L122.70,296.58 L123.00,296.37 L123.30,299.18 L123.60,298.48 L123.90,291.78 L124.20,285.33 L124.50,280.56 L124.80,272.12 L125.10,262.22 L125.40,254.08 L125.70,254.31 L126.00,250.85 L126.30,258.87 L126.60,267.24 L126.90,277.08 L127.20,282.72 L127.50,295.32 L127.80,300.04 L128.10,301.01 L128.40,298.19 L128.70,303.51 L129.00,300.52 L129.30,304.10 L129.60,302.48 L129.90,306.13 L130.20,302.85 L130.50,305.38 L130.80,304.36 L131.10,307.44 L131.40,305.61 L131.70,307.84 L132.00,305.41 L132.30,305.61 L132.60,311.00 L132.90,312.50 L133.20,308.84 L133.50,306.45 L133.80,306.31 L134.10,310.94 L134.40,306.55 L134.70,313.09 L135.00,310.34 L135.30,309.63 L135.60,310.31 L135.90,309.05 L136.20,310.33 L136.50,311.64 L136.80,311.22 L137.10,309.46 L137.40,310.73 L137.70,307.20 L138.00,307.05 L138.30,312.09 L138.60,307.27 L138.90,308.53 L139.20,306.74 L139.50,307.82 L139.80,308.77 L140.10,311.69 L140.40,305.02 L140.70,305.42 L141.00,310.16 L141.30,309.41 L141.60,307.27 L141.90,306.99 L142.20,306.27 L142.50,307.28 L142.80,304.31 L143.10,298.81 L143.40,298.28 L143.70,292.67 L144.00,293.84 L144.30,297.58 L144.60,293.05 L144.90,298.66 L145.20,305.23 L145.50,306.45 L145.80,304.96 L146.10,310.68 L146.40,307.90 L146.70,310.27 L147.00,310.44 L147.30,309.09 L147.60,309.56 L147.90,311.09 L148.20,306.73 L148.50,312.02 L148.80,310.35 L149.10,308.27 L149.40,307.35 L149.70,308.28 L150.00,310.33 L150.30,312.71 L150.60,313.94 L150.90,310.77 L151.20,309.43 L151.50,307.43 L151.80,313.95 L152.10,312.06 L152.40,312.88 L152.70,313.53 L153.00,312.51 L153.30,314.45 L153.60,309.69 L153.90,311.09 L154.20,314.12 L154.50,309.00 L154.80,310.39 L155.10,310.82 L155.40,313.46 L155.70,313.02 L156.00,308.12 L156.30,307.97 L156.60,309.54 L156.90,311.53 L157.20,306.99 L157.50,307.07 L157.80,309.94 L158.10,307.39 L158.40,307.17 L158.70,302.16 L159.00,296.11 L159.30,295.02 L159.60,289.14 L159.90,291.49 L160.20,286.60 L160.50,293.79 L160.80,297.70 L161.10,297.30 L161.40,300.59 L161.70,302.48 L162.00,309.13 L162.30,309.65 L162.60,307.72 L162.90,310.80 L163.20,310.22 L163.50,309.26 L163.80,308.88 L164.10,310.73 L164.40,311.95 L164.70,312.71 L165.00,310.06 L165.30,310.13 L165.60,309.62 L165.90,309.62 L166.20,311.90 L166.50,311.33 L166.80,308.87 L167.10,310.85 L167.40,311.34 L167.70,312.31 L168.00,310.25 L168.30,314.53 L168.60,309.78 L168.90,311.52 L169.20,313.76 L169.50,309.16 L169.80,307.65 L170.10,310.89 L170.40,309.78 L170.70,308.36 L171.00,312.37 L171.30,308.13 L171.60,310.29 L171.90,306.41 L172.20,310.08 L172.50,306.12 L172.80,307.53 L173.10,310.02 L173.40,306.06 L173.70,305.48 L174.00,300.57 L174.30,300.49 L174.60,300.80 L174.90,297.44 L175.20,297.04 L175.50,296.65 L175.80,292.71 L176.10,299.60 L176.40,293.82 L176.70,295.28 L177.00,296.85 L177.30,298.82 L177.60,293.52 L177.90,301.22 L178.20,304.36 L178.50,305.33 L178.80,302.19 L179.10,302.94 L179.40,307.52 L179.70,306.22 L180.00,306.36 L180.30,304.63 L180.60,309.40 L180.90,305.12 L181.20,311.94 L181.50,310.77 L181.80,312.81 L182.10,311.82 L182.40,312.05 L182.70,313.08 L183.00,313.04 L183.30,309.36 L183.60,313.27 L183.90,311.15 L184.20,306.89 L184.50,306.90 L184.80,307.38 L185.10,305.78 L185.40,308.77 L185.70,302.91 L186.00,301.45 L186.30,306.64 L186.60,307.02 L186.90,304.02 L187.20,305.89 L187.50,307.78 L187.80,310.23 L188.10,307.37 L188.40,305.31 L188.70,306.67 L189.00,309.66 L189.30,310.48 L189.60,306.74 L189.90,307.84 L190.20,301.24 L190.50,304.29 L190.80,303.10 L191.10,300.72 L191.40,296.35 L191.70,291.99 L192.00,289.44 L192.30,291.60 L192.60,293.55 L192.90,298.10 L193.20,297.95 L193.50,305.75 L193.80,301.89 L194.10,309.60 L194.40,305.14 L194.70,302.20 L195.00,302.04 L195.30,301.90 L195.60,299.19 L195.90,299.41 L196.20,294.88 L196.50,301.84 L196.80,301.39 L197.10,303.89 L197.40,309.59 L197.70,311.52 L198.00,308.85 L198.30,310.17 L198.60,307.37 L198.90,310.85 L199.20,310.64 L199.50,311.85 L199.80,308.05 L200.10,307.57 L200.40,305.09 L200.70,305.81 L201.00,301.02 L201.30,301.39 L201.60,298.36 L201.90,301.47 L202.20,298.89 L202.50,301.61 L202.80,309.19 L203.10,306.44 L203.40,312.92 L203.70,309.79 L204.00,312.74 L204.30,314.98 L204.60,311.00 L204.90,310.29 L205.20,314.48 L205.50,313.90 L205.80,314.90 L206.10,314.70 L206.40,310.99 L206.70,315.43 L207.00,314.49 L207.30,316.58 L207.60,316.57 L207.90,313.11 L208.20,313.27 L208.50,316.87 L208.80,315.30 L209.10,312.01 L209.40,313.08 L209.70,315.04 L210.00,316.21 L210.30,314.57 L210.60,312.12 L210.90,313.71 L211.20,311.91 L211.50,314.83 L211.80,315.44 L212.10,313.03 L212.40,316.20 L212.70,312.73 L213.00,315.53 L213.30,315.15 L213.60,318.03 L213.90,314.57 L214.20,316.54 L214.50,313.11 L214.80,311.41 L215.10,314.58 L215.40,310.96 L215.70,312.61 L216.00,317.86 L216.30,314.47 L216.60,317.36 L216.90,315.57 L217.20,317.66 L217.50,312.72 L217.80,317.55 L218.10,313.58 L218.40,314.10 L218.70,312.44 L219.00,310.95 L219.30,313.76 L219.60,315.50 L219.90,316.91 L220.20,312.24 L220.50,313.72 L220.80,315.28 L221.10,311.31 L221.40,316.36 L221.70,313.86 L222.00,311.84 L222.30,312.83 L222.60,309.90 L222.90,306.37 L223.20,308.79 L223.50,304.50 L223.80,299.18 L224.10,298.79 L224.40,292.30 L224.70,294.92 L225.00,301.17 L225.30,301.56 L225.60,302.66 L225.90,309.21 L226.20,312.18 L226.50,309.99 L226.80,312.50 L227.10,312.49 L227.40,309.73 L227.70,316.29 L228.00,311.59 L228.30,315.15 L228.60,313.17 L228.90,312.53 L229.20,310.99 L229.50,313.08 L229.80,315.12 L230.10,312.04 L230.40,310.90 L230.70,312.77 L231.00,314.90 L231.30,312.76 L231.60,311.49 L231.90,317.74 L232.20,312.93 L232.50,316.99 L232.80,314.13 L233.10,308.17 L233.40,315.80 L233.70,315.28 L234.00,314.06 L234.30,313.11 L234.60,312.33 L234.90,312.20 L235.20,314.44 L235.50,316.41 L235.80,316.19 L236.10,309.84 L236.40,312.82 L236.70,311.40 L237.00,308.52 L237.30,304.08 L237.60,300.39 L237.90,297.20 L238.20,295.69 L238.50,298.41 L238.80,301.21 L239.10,299.06 L239.40,302.99 L239.70,307.97 L240.00,307.38 L240.30,309.90 L240.60,315.20 L240.90,310.34 L241.20,316.18 L241.50,312.46 L241.80,314.29 L242.10,313.16 L242.40,314.95 L242.70,313.96 L243.00,315.37 L243.30,317.15 L243.60,312.90 L243.90,315.81 L244.20,313.40 L244.50,313.60 L244.80,313.33 L245.10,315.62 L245.40,313.92 L245.70,319.26 L246.00,313.78 L246.30,315.86 L246.60,318.31 L246.90,318.00 L247.20,314.82 L247.50,319.64 L247.80,316.07 L248.10,319.60 L248.40,316.28 L248.70,313.51 L249.00,314.74 L249.30,320.00 L249.60,318.65 L249.90,315.90 L250.20,318.40 L250.50,315.73 L250.80,314.43 L251.10,319.84 L251.40,318.43 L251.70,315.62 L252.00,318.69" stroke="#1f6fe6" stroke-width="1.05"/>
<path d="M21.00,264.59 L21.35,264.61 L21.70,264.72 L22.05,264.58 L22.40,264.59 L22.75,264.61 L23.10,264.49 L23.45,264.58 L23.80,264.62 L24.15,264.66 L24.50,264.45 L24.85,264.51 L25.20,264.44 L25.55,264.65 L25.90,264.62 L26.25,264.42 L26.60,264.70 L26.95,264.69 L27.30,264.59 L27.65,264.58 L28.00,264.44 L28.35,264.39 L28.70,264.54 L29.05,264.40 L29.40,264.43 L29.75,264.45 L30.10,264.38 L30.45,264.51 L30.80,264.50 L31.15,264.61 L31.50,264.51 L31.85,264.55 L32.20,264.50 L32.55,264.55 L32.90,264.48 L33.25,264.42 L33.60,264.64 L33.95,264.63 L34.30,264.58 L34.65,264.54 L35.00,264.42 L35.35,264.39 L35.70,264.41 L36.05,264.34 L36.40,264.54 L36.75,264.43 L37.10,264.56 L37.45,264.42 L37.80,264.59 L38.15,264.55 L38.50,264.29 L38.85,264.35 L39.20,264.56 L39.55,264.42 L39.90,264.57 L40.25,264.40 L40.60,264.29 L40.95,264.46 L41.30,264.50 L41.65,264.34 L42.00,264.29 L42.35,264.36 L42.70,264.54 L43.05,264.48 L43.40,264.28 L43.75,264.32 L44.10,264.27 L44.45,264.25 L44.80,264.47 L45.15,264.28 L45.50,264.40 L45.85,264.36 L46.20,264.28 L46.55,264.44 L46.90,264.25 L47.25,264.40 L47.60,264.24 L47.95,264.33 L48.30,264.27 L48.65,264.28 L49.00,264.49 L49.35,264.43 L49.70,264.28 L50.05,264.43 L50.40,264.19 L50.75,264.14 L51.10,264.03 L51.45,263.44 L51.80,262.31 L52.15,260.97 L52.50,258.40 L52.85,255.43 L53.20,252.37 L53.55,249.43 L53.90,247.72 L54.25,247.53 L54.60,249.02 L54.95,251.85 L55.30,254.95 L55.65,258.09 L56.00,260.47 L56.35,262.19 L56.70,263.39 L57.05,263.81 L57.40,264.11 L57.75,264.31 L58.10,264.15 L58.45,264.15 L58.80,264.38 L59.15,264.35 L59.50,264.18 L59.85,264.16 L60.20,264.32 L60.55,264.38 L60.90,264.15 L61.25,264.37 L61.60,264.35 L61.95,264.26 L62.30,264.21 L62.65,264.11 L63.00,264.09 L63.35,264.36 L63.70,264.14 L64.05,264.28 L64.40,264.14 L64.75,264.31 L65.10,264.24 L65.45,264.14 L65.80,264.10 L66.15,264.26 L66.50,264.07 L66.85,264.11 L67.20,264.20 L67.55,264.28 L67.90,264.18 L68.25,264.02 L68.60,264.07 L68.95,263.53 L69.30,262.80 L69.65,261.60 L70.00,259.42 L70.35,255.72 L70.70,250.47 L71.05,243.43 L71.40,234.91 L71.75,225.54 L72.10,216.99 L72.45,210.63 L72.80,207.51 L73.15,208.29 L73.50,213.01 L73.85,220.56 L74.20,229.49 L74.55,238.55 L74.90,246.55 L75.25,253.14 L75.60,257.60 L75.95,260.63 L76.30,262.12 L76.65,263.27 L77.00,263.72 L77.35,264.02 L77.70,263.98 L78.05,264.20 L78.40,263.87 L78.75,263.87 L79.10,263.63 L79.45,263.09 L79.80,261.99 L80.15,260.24 L80.50,257.64 L80.85,254.06 L81.20,249.38 L81.55,244.44 L81.90,239.59 L82.25,235.59 L82.60,233.14 L82.95,233.09 L83.30,235.14 L83.65,238.84 L84.00,243.68 L84.35,248.67 L84.70,253.34 L85.05,257.11 L85.40,259.71 L85.75,261.72 L86.10,262.96 L86.45,263.57 L86.80,263.85 L87.15,263.91 L87.50,264.08 L87.85,264.06 L88.20,264.03 L88.55,264.15 L88.90,263.92 L89.25,264.12 L89.60,263.90 L89.95,264.07 L90.30,264.03 L90.65,263.96 L91.00,264.09 L91.35,264.03 L91.70,264.07 L92.05,264.16 L92.40,263.96 L92.75,263.88 L93.10,263.97 L93.45,264.08 L93.80,263.93 L94.15,263.92 L94.50,264.14 L94.85,264.07 L95.20,264.00 L95.55,264.13 L95.90,263.96 L96.25,264.06 L96.60,263.92 L96.95,263.99 L97.30,264.10 L97.65,264.13 L98.00,264.12 L98.35,263.97 L98.70,264.03 L99.05,263.95 L99.40,263.89 L99.75,263.99 L100.10,264.08 L100.45,264.05 L100.80,263.91 L101.15,263.78 L101.50,263.19 L101.85,262.55 L102.20,261.79 L102.55,260.80 L102.90,259.94 L103.25,259.52 L103.60,259.63 L103.95,260.13 L104.30,260.94 L104.65,262.04 L105.00,262.89 L105.35,263.31 L105.70,263.55 L106.05,263.72 L106.40,264.05 L106.75,263.84 L107.10,264.05 L107.45,264.01 L107.80,263.93 L108.15,264.08 L108.50,263.85 L108.85,263.88 L109.20,263.98 L109.55,263.85 L109.90,264.09 L110.25,263.91 L110.60,263.88 L110.95,263.85 L111.30,264.03 L111.65,263.97 L112.00,264.03 L112.35,264.04 L112.70,264.08 L113.05,264.11 L113.40,264.00 L113.75,263.76 L114.10,263.62 L114.45,263.01 L114.80,261.93 L115.15,260.22 L115.50,257.40 L115.85,253.25 L116.20,248.52 L116.55,243.82 L116.90,240.28 L117.25,238.63 L117.60,239.56 L117.95,242.75 L118.30,247.17 L118.65,252.13 L119.00,256.43 L119.35,259.40 L119.70,261.78 L120.05,262.95 L120.40,263.41 L120.75,263.80 L121.10,263.97 L121.45,264.10 L121.80,263.95 L122.15,264.00 L122.50,264.05 L122.85,263.93 L123.20,263.81 L123.55,263.43 L123.90,263.23 L124.25,262.89 L124.60,262.97 L124.95,263.08 L125.30,263.23 L125.65,263.52 L126.00,263.60 L126.35,263.97 L126.70,264.09 L127.05,264.13 L127.40,264.02 L127.75,264.10 L128.10,263.96 L128.45,264.14 L128.80,264.12 L129.15,263.96 L129.50,263.85 L129.85,263.89 L130.20,263.79 L130.55,263.64 L130.90,263.24 L131.25,262.72 L131.60,262.59 L131.95,262.12 L132.30,262.30 L132.65,262.28 L133.00,262.66 L133.35,263.18 L133.70,263.34 L134.05,263.60 L134.40,263.88 L134.75,264.04 L135.10,264.12 L135.45,264.09 L135.80,264.18 L136.15,264.04 L136.50,264.18 L136.85,263.93 L137.20,263.97 L137.55,264.06 L137.90,263.99 L138.25,264.12 L138.60,264.09 L138.95,264.03 L139.30,264.09 L139.65,263.92 L140.00,263.71 L140.35,263.54 L140.70,263.46 L141.05,263.27 L141.40,262.93 L141.75,263.12 L142.10,263.27 L142.45,263.33 L142.80,263.57 L143.15,263.66 L143.50,263.91 L143.85,263.99 L144.20,264.07 L144.55,263.92 L144.90,264.22 L145.25,264.09 L145.60,264.05 L145.95,264.18 L146.30,264.11 L146.65,264.09 L147.00,264.15 L147.35,263.96 L147.70,264.10 L148.05,264.07 L148.40,264.23 L148.75,264.22 L149.10,264.03 L149.45,264.09 L149.80,263.99 L150.15,264.07 L150.50,264.18 L150.85,264.18 L151.20,264.00 L151.55,263.87 L151.90,263.68 L152.25,263.57 L152.60,263.31 L152.95,262.58 L153.30,262.14 L153.65,261.16 L154.00,260.37 L154.35,259.55 L154.70,258.95 L155.05,258.31 L155.40,258.07 L155.75,258.22 L156.10,258.45 L156.45,259.27 L156.80,259.88 L157.15,260.84 L157.50,261.58 L157.85,262.28 L158.20,262.95 L158.55,263.36 L158.90,263.64 L159.25,263.85 L159.60,264.01 L159.95,263.97 L160.30,264.02 L160.65,264.17 L161.00,264.18 L161.35,264.15 L161.70,264.25 L162.05,264.17 L162.40,264.22 L162.75,263.97 L163.10,263.97 L163.45,263.67 L163.80,263.12 L164.15,262.05 L164.50,260.90 L164.85,259.86 L165.20,258.66 L165.55,258.46 L165.90,258.68 L166.25,259.31 L166.60,260.53 L166.95,261.88 L167.30,262.71 L167.65,263.33 L168.00,263.94 L168.35,264.01 L168.70,264.21 L169.05,264.05 L169.40,264.14 L169.75,264.23 L170.10,264.03 L170.45,264.09 L170.80,264.23 L171.15,264.30 L171.50,264.32 L171.85,264.07 L172.20,264.18 L172.55,264.26 L172.90,264.19 L173.25,264.24 L173.60,264.09 L173.95,264.06 L174.30,264.06 L174.65,264.02 L175.00,264.13 L175.35,264.02 L175.70,263.81 L176.05,263.31 L176.40,262.75 L176.75,262.03 L177.10,261.48 L177.45,260.96 L177.80,260.73 L178.15,260.69 L178.50,261.25 L178.85,262.26 L179.20,262.84 L179.55,263.49 L179.90,263.73 L180.25,263.94 L180.60,263.95 L180.95,263.76 L181.30,263.47 L181.65,262.77 L182.00,262.32 L182.35,261.71 L182.70,261.05 L183.05,260.99 L183.40,261.32 L183.75,261.76 L184.10,262.36 L184.45,262.98 L184.80,263.57 L185.15,263.74 L185.50,264.18 L185.85,264.24 L186.20,264.25 L186.55,264.31 L186.90,264.24 L187.25,264.18 L187.60,264.24 L187.95,264.21 L188.30,264.35 L188.65,264.30 L189.00,264.14 L189.35,264.33 L189.70,264.28 L190.05,264.29 L190.40,264.30 L190.75,264.18 L191.10,264.31 L191.45,264.28 L191.80,264.16 L192.15,264.04 L192.50,263.77 L192.85,263.22 L193.20,262.68 L193.55,261.66 L193.90,260.86 L194.25,260.13 L194.60,259.53 L194.95,259.60 L195.30,260.09 L195.65,260.83 L196.00,261.59 L196.35,262.64 L196.70,263.22 L197.05,263.59 L197.40,263.98 L197.75,264.11 L198.10,264.17 L198.45,264.15 L198.80,264.32 L199.15,264.15 L199.50,264.02 L199.85,263.75 L200.20,263.35 L200.55,262.42 L200.90,261.84 L201.25,261.18 L201.60,260.60 L201.95,260.61 L202.30,260.89 L202.65,261.60 L203.00,262.42 L203.35,263.01 L203.70,263.55 L204.05,264.05 L204.40,264.11 L204.75,264.17 L205.10,264.34 L205.45,264.23 L205.80,264.36 L206.15,264.25 L206.50,264.29 L206.85,264.05 L207.20,264.14 L207.55,264.07 L207.90,263.65 L208.25,263.65 L208.60,263.14 L208.95,263.04 L209.30,262.91 L209.65,263.14 L210.00,263.43 L210.35,263.55 L210.70,264.05 L211.05,264.04 L211.40,264.16 L211.75,264.22 L212.10,264.17 L212.45,264.14 L212.80,264.25 L213.15,264.19 L213.50,264.05 L213.85,264.05 L214.20,263.67 L214.55,263.15 L214.90,262.56 L215.25,261.62 L215.60,260.66 L215.95,259.91 L216.30,259.16 L216.65,259.12 L217.00,259.41 L217.35,259.95 L217.70,261.20 L218.05,262.16 L218.40,262.72 L218.75,263.56 L219.10,263.80 L219.45,264.02 L219.80,264.28 L220.15,264.11 L220.50,264.21 L220.85,264.34 L221.20,264.28 L221.55,264.20 L221.90,264.36 L222.25,264.31 L222.60,264.24 L222.95,264.10 L223.30,264.25 L223.65,264.20 L224.00,264.12 L224.35,264.08 L224.70,264.22 L225.05,264.10 L225.40,264.19 L225.75,264.26 L226.10,264.20 L226.45,264.14 L226.80,264.23 L227.15,264.19 L227.50,264.29 L227.85,264.22 L228.20,264.36 L228.55,264.35 L228.90,264.28 L229.25,264.13 L229.60,264.09 L229.95,264.33 L230.30,264.29 L230.65,264.25 L231.00,264.16 L231.35,264.13 L231.70,264.25 L232.05,264.18 L232.40,264.13 L232.75,264.03 L233.10,263.89 L233.45,263.49 L233.80,263.26 L234.15,263.26 L234.50,263.13 L234.85,263.15 L235.20,263.06 L235.55,263.31 L235.90,263.62 L236.25,263.87 L236.60,264.08 L236.95,264.01 L237.30,264.18 L237.65,264.04 L238.00,264.02 L238.35,264.12 L238.70,263.94 L239.05,263.73 L239.40,263.34 L239.75,263.01 L240.10,262.61 L240.45,262.47 L240.80,262.61 L241.15,262.84 L241.50,262.94 L241.85,263.31 L242.20,263.82 L242.55,263.99 L242.90,264.16 L243.25,264.07 L243.60,264.16 L243.95,264.12 L244.30,264.29 L244.65,264.16 L245.00,264.25 L245.35,264.35 L245.70,264.15 L246.05,264.22 L246.40,264.28 L246.75,264.33 L247.10,264.18 L247.45,264.16 L247.80,264.08 L248.15,264.31 L248.50,264.07 L248.85,264.08 L249.20,264.22 L249.55,264.20 L249.90,264.26 L250.25,264.14 L250.60,264.28 L250.95,264.07 L251.30,264.11 L251.65,264.25 L252.00,264.07" stroke="#ff3030" stroke-width="1"/>
</g>
<rect x="21" y="199.5" width="230.4" height="170" fill="none" stroke="#555" stroke-width="1.25"/>
<text transform="translate(22.36,208.40) scale(1.069,1)" font-size="8.20">(C)</text>
<text transform="translate(49.07,246.95) scale(0.875,1)" font-size="6.62">15.02</text>
<text transform="translate(78.38,232.75) scale(0.851,1)" font-size="6.62">19.38</text>
<text transform="translate(99.63,260.15) scale(0.812,1)" font-size="6.62">22.6</text>
<text transform="translate(112.41,238.55) scale(0.879,1)" font-size="6.62">24.62</text>
<text transform="translate(149.31,258.15) scale(0.872,1)" font-size="6.62">30.32</text>
<text transform="translate(211.02,258.15) scale(0.855,1)" font-size="6.62">35.96</text>
<text transform="translate(229.16,257.35) scale(0.871,1)" font-size="6.62">Pro</text>
<text transform="translate(42.28,296.45) scale(0.854,1)" font-size="6.62">14.02</text>
<text transform="translate(51.06,301.15) scale(0.879,1)" font-size="6.62">15.48</text>
<text transform="translate(60.90,297.55) scale(0.797,1)" font-size="6.62">16.8</text>
<text transform="translate(84.98,280.25) scale(0.843,1)" font-size="6.62">19.3</text>
<text transform="translate(92.02,291.35) scale(0.855,1)" font-size="6.62">21.46</text>
<text transform="translate(107.42,281.95) scale(0.855,1)" font-size="6.62">23.74</text>
<text transform="translate(128.31,284.85) scale(0.862,1)" font-size="6.62">25.86</text>
<text transform="translate(138.72,293.55) scale(0.834,1)" font-size="6.62">28.64</text>
<text transform="translate(154.81,287.45) scale(0.890,1)" font-size="6.62">31.16</text>
<text transform="translate(225.72,288.55) scale(0.860,1)" font-size="6.62">C3G+Pro</text>
<text transform="translate(219.16,294.85) scale(0.825,1)" font-size="6.62">40.86</text>
<text transform="translate(234.05,296.95) scale(0.886,1)" font-size="6.62">43.06</text>
<text transform="translate(34.96,345.15) scale(0.882,1)" font-size="6.62">13.02</text>
<text transform="translate(47.37,342.85) scale(0.861,1)" font-size="6.62">14.7</text>
<text transform="translate(124.61,323.05) scale(0.862,1)" font-size="6.62">26.34</text>
<text transform="translate(132.31,330.75) scale(0.862,1)" font-size="6.62">27.36</text>
<text transform="translate(227.43,347.65) scale(0.817,1)" font-size="6.62">C3G</text>
<path d="M83.10,272.00 L87.54,273.55" stroke="#111" stroke-width="0.7"/><path d="M90.00,274.40 L87.12,274.77 L87.97,272.32Z" fill="#111"/>
<path d="M128.20,273.60 L129.92,275.62" stroke="#111" stroke-width="0.7"/><path d="M131.60,277.60 L128.93,276.46 L130.91,274.78Z" fill="#111"/>
<path d="M57.00,300.80 L57.00,303.60" stroke="#111" stroke-width="0.6"/><path d="M57.00,305.80 L56.00,303.60 L58.00,303.60Z" fill="#111"/>
<path d="M65.60,297.20 L65.60,304.10" stroke="#111" stroke-width="0.6"/><path d="M65.60,306.30 L64.60,304.10 L66.60,304.10Z" fill="#111"/>
<text transform="translate(91.10,382.90) scale(1.060,1)" font-size="8.31">Angle of diffraction (2θ)</text>
<text transform="translate(9.60,310.62) rotate(-90) scale(1.123,1)" font-size="7.80">Intensity (a.u)</text>
<g clip-path="url(#cD)" fill="none" stroke-linejoin="round">
<path d="M309.00,356.90 L358.76,356.85 L392.36,356.80 L393.08,356.74 L393.40,356.69 L393.64,356.63 L393.80,356.57 L393.96,356.50 L394.12,356.42 L394.20,356.37 L394.28,356.32 L394.36,356.27 L394.44,356.21 L394.52,356.14 L394.60,356.07 L394.68,355.99 L394.76,355.91 L394.84,355.82 L394.92,355.72 L395.00,355.62 L395.08,355.51 L395.16,355.40 L395.24,355.28 L395.32,355.15 L395.40,355.02 L395.48,354.89 L395.56,354.74 L395.64,354.60 L395.72,354.44 L395.80,354.29 L395.88,354.13 L395.96,353.97 L396.04,353.80 L396.12,353.64 L396.20,353.47 L396.28,353.30 L396.36,353.14 L396.44,352.97 L396.52,352.81 L396.60,352.65 L396.68,352.50 L396.76,352.35 L396.84,352.21 L396.92,352.07 L397.00,351.95 L397.08,351.83 L397.16,351.72 L397.24,351.63 L397.32,351.54 L397.40,351.47 L397.48,351.41 L397.64,351.33 L398.12,351.41 L398.20,351.47 L398.28,351.54 L398.36,351.62 L398.44,351.72 L398.52,351.83 L398.60,351.94 L398.68,352.07 L398.76,352.20 L398.84,352.35 L398.92,352.49 L399.00,352.65 L399.08,352.81 L399.16,352.97 L399.24,353.13 L399.32,353.30 L399.40,353.46 L399.48,353.63 L399.56,353.80 L399.64,353.96 L399.72,354.12 L399.80,354.28 L399.88,354.44 L399.96,354.59 L400.04,354.74 L400.12,354.88 L400.20,355.02 L400.28,355.15 L400.36,355.27 L400.44,355.39 L400.52,355.51 L400.60,355.61 L400.68,355.72 L400.76,355.81 L400.84,355.90 L400.92,355.98 L401.00,356.06 L401.08,356.13 L401.16,356.20 L401.24,356.26 L401.32,356.32 L401.40,356.37 L401.56,356.46 L401.72,356.53 L401.88,356.59 L402.12,356.66 L402.44,356.72 L403.00,356.78 L419.88,356.73 L420.68,356.67 L421.08,356.61 L421.32,356.55 L421.48,356.49 L421.64,356.41 L421.72,356.35 L421.80,356.28 L421.88,356.19 L421.96,356.08 L422.04,355.92 L422.12,355.72 L422.20,355.43 L422.28,355.01 L422.36,354.36 L422.44,353.30 L422.52,351.43 L422.60,347.82 L422.68,340.48 L422.76,329.21 L422.80,326.59 L422.84,329.20 L422.92,340.48 L423.00,347.81 L423.08,351.43 L423.16,353.30 L423.24,354.36 L423.32,355.00 L423.40,355.43 L423.48,355.71 L423.56,355.92 L423.64,356.07 L423.72,356.19 L423.80,356.28 L423.88,356.35 L423.96,356.40 L424.12,356.49 L424.28,356.55 L424.52,356.61 L424.92,356.66 L425.72,356.72 L434.84,356.66 L435.40,356.61 L435.72,356.56 L435.96,356.50 L436.12,356.44 L436.28,356.37 L436.36,356.32 L436.44,356.26 L436.52,356.19 L436.60,356.10 L436.68,355.98 L436.76,355.84 L436.84,355.65 L436.92,355.40 L437.00,355.04 L437.08,354.53 L437.16,353.76 L437.24,352.52 L437.32,350.40 L437.40,346.54 L437.48,339.50 L437.56,330.37 L437.60,328.49 L437.64,330.36 L437.72,339.48 L437.80,346.51 L437.88,350.36 L437.96,352.46 L438.04,353.68 L438.12,354.44 L438.20,354.93 L438.28,355.27 L438.36,355.50 L438.44,355.67 L438.52,355.78 L438.60,355.86 L438.68,355.92 L439.08,355.88 L439.16,355.80 L439.24,355.69 L439.32,355.54 L439.40,355.32 L439.48,355.01 L439.56,354.56 L439.64,353.88 L439.72,352.79 L439.80,350.94 L439.88,347.61 L439.96,341.44 L440.04,332.12 L440.10,328.20 L440.12,328.69 L440.20,336.96 L440.28,345.01 L440.36,349.57 L440.44,352.05 L440.52,353.47 L440.60,354.34 L440.68,354.91 L440.76,355.30 L440.84,355.58 L440.92,355.79 L441.00,355.94 L441.08,356.06 L441.16,356.16 L441.24,356.23 L441.32,356.29 L441.40,356.35 L441.56,356.43 L441.72,356.48 L441.96,356.55 L442.28,356.60 L442.84,356.65 L444.04,356.70 L461.08,356.65 L461.56,356.59 L461.80,356.54 L461.96,356.48 L462.12,356.40 L462.20,356.34 L462.28,356.26 L462.36,356.16 L462.44,356.02 L462.52,355.82 L462.60,355.53 L462.68,355.08 L462.76,354.34 L462.84,352.98 L462.92,350.32 L463.00,345.00 L463.08,338.49 L463.10,338.06 L463.16,341.34 L463.24,348.07 L463.32,351.88 L463.40,353.76 L463.48,354.75 L463.56,355.32 L463.64,355.68 L463.72,355.91 L463.80,356.08 L463.88,356.19 L463.96,356.28 L464.04,356.34 L464.20,356.43 L464.36,356.49 L464.68,356.55 L466.04,356.48 L466.28,356.41 L466.44,356.32 L466.52,356.26 L466.60,356.19 L466.68,356.09 L466.76,355.97 L466.84,355.79 L466.92,355.55 L467.00,355.19 L467.08,354.62 L467.16,353.69 L467.24,352.00 L467.32,348.68 L467.40,342.04 L467.48,333.94 L467.50,333.40 L467.56,337.48 L467.64,345.87 L467.72,350.61 L467.80,352.95 L467.88,354.18 L467.96,354.89 L468.04,355.33 L468.12,355.61 L468.20,355.81 L468.28,355.95 L468.36,356.04 L468.44,356.11 L468.52,356.16 L468.68,356.22 L469.16,356.17 L469.24,356.13 L469.32,356.07 L469.40,356.00 L469.48,355.91 L469.56,355.80 L469.64,355.64 L469.72,355.44 L469.80,355.16 L469.88,354.77 L469.96,354.21 L470.04,353.35 L470.12,351.98 L470.20,349.59 L470.28,345.08 L470.36,335.92 L470.44,319.72 L470.50,311.85 L470.52,312.89 L470.60,328.52 L470.68,341.32 L470.76,347.73 L470.84,350.98 L470.92,352.78 L471.00,353.86 L471.08,354.56 L471.16,355.03 L471.24,355.36 L471.32,355.61 L471.40,355.79 L471.48,355.93 L471.56,356.04 L471.64,356.13 L471.72,356.21 L471.80,356.27 L471.88,356.32 L472.04,356.40 L472.20,356.45 L472.44,356.52 L472.76,356.57 L473.32,356.62 L474.52,356.68 L539.48,356.67" stroke="#b3bbff" stroke-width="1"/>
<rect x="449.1" y="209.5" width="2.8" height="41.5" fill="#ffc4fa" stroke="none"/>
<path d="M449.3,251.5 L449.3,209.5 M451.7,251.5 L451.7,209.5" stroke="#ff7cf2" stroke-width="0.7"/>
<path d="M309.00,252.90 L324.37,252.81 L346.81,252.69 L369.35,252.54 L385.00,252.40 L390.88,252.28 L391.05,252.18 L388.95,252.03 L388.00,251.80 L388.81,251.47 L389.64,251.06 L390.46,250.60 L391.20,250.10 L391.86,249.56 L392.46,248.97 L393.00,248.35 L393.50,247.70 L393.94,247.06 L394.31,246.41 L394.66,245.68 L395.00,244.80 L395.35,243.76 L395.68,242.61 L396.00,241.30 L396.30,239.80 L396.57,238.19 L396.81,236.46 L397.04,234.45 L397.30,232.00 L397.60,228.93 L397.91,225.38 L398.22,221.63 L398.50,218.00 L398.73,214.55 L398.94,211.11 L399.12,207.67 L399.30,204.20 L399.48,200.35 L399.65,196.24 L399.80,192.56 L399.90,190.00 L409.30,190.00 L409.44,193.17 L409.63,197.74 L409.86,202.74 L410.10,207.20 L410.34,210.92 L410.61,214.39 L410.89,217.71 L411.20,221.00 L411.55,224.38 L411.94,227.78 L412.33,230.93 L412.70,233.60 L413.03,235.63 L413.33,237.19 L413.64,238.50 L414.00,239.80 L414.41,241.12 L414.84,242.35 L415.31,243.50 L415.80,244.60 L416.32,245.66 L416.86,246.66 L417.43,247.58 L418.00,248.40 L418.53,249.10 L419.05,249.69 L419.64,250.22 L420.40,250.70 L421.39,251.15 L422.54,251.55 L423.77,251.90 L425.00,252.20 L426.25,252.44 L427.54,252.63 L428.81,252.78 L430.00,252.90 L431.16,252.99 L432.31,253.04 L433.30,253.08 L434.00,253.10 L434.20,253.05 L435.40,252.99 L435.64,252.91 L435.72,252.87 L435.80,252.80 L435.88,252.72 L435.96,252.62 L436.04,252.50 L436.12,252.35 L436.20,252.17 L436.28,251.98 L436.36,251.78 L436.44,251.56 L436.52,251.36 L436.60,251.17 L436.68,251.00 L436.76,250.88 L436.84,250.80 L437.00,250.80 L437.08,250.88 L437.16,250.99 L437.24,251.14 L437.32,251.31 L437.40,251.49 L437.48,251.66 L437.56,251.83 L437.64,251.97 L437.72,252.09 L437.80,252.17 L437.88,252.23 L438.12,252.22 L438.20,252.16 L438.28,252.07 L438.36,251.94 L438.44,251.78 L438.52,251.57 L438.60,251.29 L438.68,250.93 L438.76,250.46 L438.84,249.80 L438.92,248.87 L439.00,247.48 L439.08,245.32 L439.16,241.68 L439.24,234.99 L439.32,221.38 L439.40,192.25 L439.48,152.78 L439.50,150.00 L439.56,170.62 L439.64,209.43 L439.72,229.46 L439.80,238.88 L439.88,243.75 L439.96,246.53 L440.04,248.25 L440.12,249.38 L440.20,250.15 L440.28,250.71 L440.36,251.12 L440.44,251.43 L440.52,251.66 L440.60,251.84 L440.68,251.96 L440.76,252.03 L440.92,252.02 L441.00,251.95 L441.08,251.81 L441.16,251.64 L441.24,251.42 L441.32,251.18 L441.40,250.95 L441.48,250.74 L441.56,250.58 L441.64,250.49 L441.72,250.49 L441.80,250.58 L441.88,250.75 L441.96,250.99 L442.04,251.26 L442.12,251.55 L442.20,251.84 L442.28,252.10 L442.36,252.33 L442.44,252.51 L442.52,252.65 L442.60,252.76 L442.68,252.84 L442.76,252.89 L442.92,252.95 L443.48,253.00 L448.28,252.94 L448.60,252.88 L448.76,252.83 L448.92,252.76 L449.00,252.71 L449.08,252.66 L449.16,252.59 L449.24,252.50 L449.32,252.39 L449.40,252.25 L449.48,252.06 L449.56,251.79 L449.64,251.42 L449.72,250.87 L449.80,250.01 L449.88,248.58 L449.96,246.05 L450.04,241.35 L450.12,233.55 L450.20,227.99 L450.20,227.99 L450.28,233.55 L450.36,241.36 L450.44,246.05 L450.52,248.58 L450.60,250.01 L450.68,250.87 L450.76,251.42 L450.84,251.80 L450.92,252.06 L451.00,252.25 L451.08,252.40 L451.16,252.51 L451.24,252.59 L451.32,252.66 L451.40,252.72 L451.56,252.81 L451.72,252.87 L451.96,252.93 L452.28,252.98 L452.84,253.03 L454.36,253.08 L468.52,253.13 L469.72,253.04 L469.80,252.96 L469.88,252.82 L469.96,252.61 L470.04,252.32 L470.12,251.95 L470.20,251.53 L470.28,251.12 L470.36,250.77 L470.44,250.55 L470.50,250.50 L470.52,250.50 L470.60,250.64 L470.68,250.93 L470.76,251.32 L470.84,251.75 L470.92,252.14 L471.00,252.48 L471.08,252.73 L471.16,252.90 L471.24,253.01 L471.32,253.07 L471.48,253.12 L506.60,253.17 L539.48,253.21" stroke="#ff3cf0" stroke-width="1.3"/>
<path d="M309.00,300.70 L353.48,300.63 L353.56,300.59 L353.64,300.53 L353.72,300.44 L353.80,300.32 L353.88,300.18 L353.96,300.04 L354.04,299.92 L354.12,299.83 L354.28,299.83 L354.36,299.92 L354.44,300.04 L354.52,300.18 L354.60,300.32 L354.68,300.44 L354.76,300.53 L354.84,300.59 L355.00,300.66 L361.24,300.56 L361.32,300.49 L361.40,300.40 L361.48,300.29 L361.56,300.18 L361.64,300.09 L361.72,300.02 L361.88,300.02 L361.96,300.09 L362.04,300.18 L362.12,300.29 L362.20,300.40 L362.28,300.49 L362.36,300.56 L362.52,300.64 L365.24,300.61 L365.32,300.56 L365.40,300.48 L365.48,300.38 L365.56,300.27 L365.64,300.14 L365.72,300.03 L365.80,299.94 L365.96,299.91 L366.04,299.98 L366.12,300.08 L366.20,300.20 L366.28,300.33 L366.36,300.44 L366.44,300.52 L366.52,300.58 L366.68,300.65 L378.68,300.56 L378.76,300.50 L378.84,300.40 L378.92,300.28 L379.00,300.14 L379.08,300.00 L379.16,299.89 L379.24,299.81 L379.40,299.84 L379.48,299.94 L379.56,300.07 L379.64,300.21 L379.72,300.34 L379.80,300.45 L379.88,300.53 L379.96,300.59 L380.12,300.65 L397.48,300.59 L399.00,300.54 L399.72,300.49 L400.20,300.44 L400.60,300.37 L400.84,300.32 L401.08,300.25 L401.24,300.20 L401.40,300.13 L401.56,300.04 L401.64,299.99 L401.72,299.93 L401.80,299.86 L401.88,299.79 L401.96,299.70 L402.04,299.60 L402.12,299.48 L402.20,299.34 L402.28,299.18 L402.36,298.99 L402.44,298.75 L402.52,298.46 L402.60,298.10 L402.68,297.64 L402.76,297.05 L402.84,296.27 L402.92,295.21 L403.00,293.71 L403.08,291.53 L403.16,288.15 L403.24,282.60 L403.32,272.63 L403.40,252.84 L403.48,210.33 L403.56,138.07 L403.60,120.00 L403.64,138.07 L403.72,210.33 L403.80,252.84 L403.88,272.63 L403.96,282.60 L404.04,288.15 L404.12,291.53 L404.20,293.71 L404.28,295.20 L404.36,296.27 L404.44,297.05 L404.52,297.64 L404.60,298.10 L404.68,298.46 L404.76,298.75 L404.84,298.98 L404.92,299.18 L405.00,299.34 L405.08,299.48 L405.16,299.60 L405.24,299.70 L405.32,299.79 L405.40,299.86 L405.48,299.93 L405.56,299.99 L405.64,300.04 L405.80,300.12 L405.96,300.19 L406.12,300.25 L406.36,300.32 L406.60,300.37 L406.92,300.42 L407.40,300.48 L408.12,300.53 L409.48,300.58 L414.28,300.63 L435.88,300.58 L436.84,300.53 L437.32,300.48 L437.64,300.42 L437.88,300.35 L438.04,300.29 L438.20,300.20 L438.28,300.15 L438.36,300.08 L438.44,300.00 L438.52,299.90 L438.60,299.78 L438.68,299.62 L438.76,299.42 L438.84,299.15 L438.92,298.79 L439.00,298.28 L439.08,297.52 L439.16,296.34 L439.24,294.37 L439.32,290.73 L439.40,283.12 L439.48,264.72 L439.56,225.09 L439.60,213.00 L439.64,225.09 L439.72,264.72 L439.80,283.12 L439.88,290.73 L439.96,294.37 L440.04,296.34 L440.12,297.52 L440.20,298.28 L440.28,298.79 L440.36,299.15 L440.44,299.42 L440.52,299.62 L440.60,299.78 L440.68,299.90 L440.76,300.00 L440.84,300.08 L440.92,300.15 L441.00,300.20 L441.16,300.29 L441.32,300.35 L441.56,300.42 L441.88,300.48 L442.36,300.53 L443.32,300.58 L448.28,300.63 L539.48,300.61" stroke="#2ae6f4" stroke-width="1.3"/>
</g>
<rect x="447.7" y="206.2" width="6.4" height="52.8" fill="none" stroke="#f03a3a" stroke-width="1.1"/>
<rect x="460.9" y="315.3" width="4.6" height="53.4" fill="none" stroke="#f03a3a" stroke-width="1.1"/>
<rect x="308.9" y="199.6" width="230.5" height="169.3" fill="none" stroke="#555" stroke-width="1.25"/>
<path d="M309.00,369 v2.8 M320.53,369 v1.5 M332.06,369 v2.8 M343.59,369 v1.5 M355.12,369 v2.8 M366.65,369 v1.5 M378.18,369 v2.8 M389.71,369 v1.5 M401.24,369 v2.8 M412.77,369 v1.5 M424.30,369 v2.8 M435.83,369 v1.5 M447.36,369 v2.8 M458.89,369 v1.5 M470.42,369 v2.8 M481.95,369 v1.5 M493.48,369 v2.8 M505.01,369 v1.5 M516.54,369 v2.8 M528.07,369 v1.5 M539.60,369 v2.8" stroke="#555" stroke-width="1"/>
<text transform="translate(307.15,381.10) scale(1.002,1)" font-size="7.38">9</text>
<text transform="translate(330.21,381.10) scale(1.002,1)" font-size="7.38">8</text>
<text transform="translate(353.18,381.10) scale(1.002,1)" font-size="7.38">7</text>
<text transform="translate(376.33,381.10) scale(1.002,1)" font-size="7.38">6</text>
<text transform="translate(399.30,381.10) scale(1.002,1)" font-size="7.38">5</text>
<text transform="translate(422.45,381.10) scale(1.002,1)" font-size="7.38">4</text>
<text transform="translate(445.42,381.10) scale(1.002,1)" font-size="7.38">3</text>
<text transform="translate(468.57,381.10) scale(1.002,1)" font-size="7.38">2</text>
<text transform="translate(491.54,381.10) scale(1.002,1)" font-size="7.38">1</text>
<text transform="translate(514.60,381.10) scale(1.002,1)" font-size="7.38">0</text>
<text transform="translate(536.52,381.10) scale(1.002,1)" font-size="7.38">-1</text>
<text transform="translate(310.55,208.80) scale(1.088,1)" font-size="8.20">(D)</text>
<text transform="translate(318.59,250.50) scale(1.017,1)" font-size="6.15">C3G+Pro</text>
<text transform="translate(318.17,297.80) scale(1.072,1)" font-size="6.15">C3G</text>
<text transform="translate(317.74,354.60) scale(0.997,1)" font-size="6.46">Pro</text>
</svg></body></html>
